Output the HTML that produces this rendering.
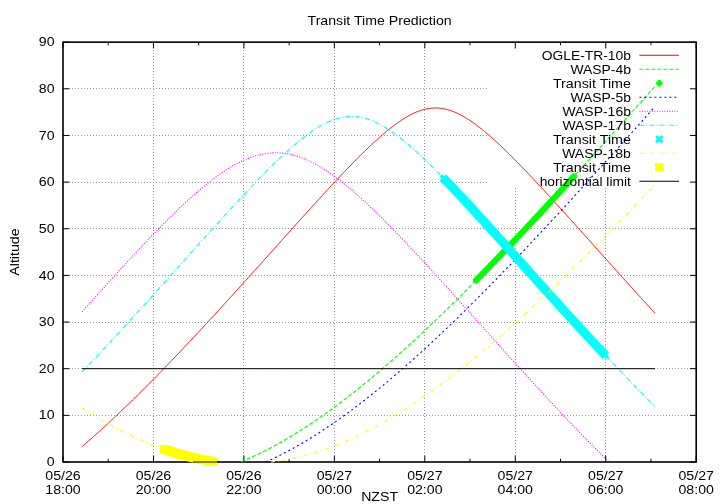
<!DOCTYPE html>
<html><head><meta charset="utf-8"><title>Transit Time Prediction</title>
<style>html,body{margin:0;padding:0;background:#fff}svg{display:block;will-change:transform}text{font-family:'Liberation Sans',sans-serif;font-size:14.15px;fill:#000}</style></head><body>
<svg width="720" height="504" viewBox="0 0 720 504">
<rect width="720" height="504" fill="#fff"/>
<path d="M63.00,415.50H696.20M63.00,368.50H696.20M63.00,322.50H696.20M63.00,275.50H696.20M63.00,228.50H696.20M63.00,182.50H487.00M63.00,135.50H487.00M63.00,88.50H487.00M153.50,462.00V42.15M243.50,462.00V42.15M334.50,462.00V42.15M424.50,462.00V42.15M515.50,462.00V188.00M605.50,462.00V188.00" fill="none" stroke="#999" stroke-width="1" stroke-dasharray="1,2"/>
<path d="M63.00,462.00h6.3M696.20,462.00h-6.3M63.00,415.35h6.3M696.20,415.35h-6.3M63.00,368.70h6.3M696.20,368.70h-6.3M63.00,322.05h6.3M696.20,322.05h-6.3M63.00,275.40h6.3M696.20,275.40h-6.3M63.00,228.75h6.3M696.20,228.75h-6.3M63.00,182.10h6.3M696.20,182.10h-6.3M63.00,135.45h6.3M696.20,135.45h-6.3M63.00,88.80h6.3M696.20,88.80h-6.3M63.00,42.15h6.3M696.20,42.15h-6.3M63.00,462.00v-6.30M63.00,42.15v6.30M108.23,462.00v-3.15M108.23,42.15v3.15M153.46,462.00v-6.30M153.46,42.15v6.30M198.69,462.00v-3.15M198.69,42.15v3.15M243.91,462.00v-6.30M243.91,42.15v6.30M289.14,462.00v-3.15M289.14,42.15v3.15M334.37,462.00v-6.30M334.37,42.15v6.30M379.60,462.00v-3.15M379.60,42.15v3.15M424.83,462.00v-6.30M424.83,42.15v6.30M470.06,462.00v-3.15M470.06,42.15v3.15M515.29,462.00v-6.30M515.29,42.15v6.30M560.51,462.00v-3.15M560.51,42.15v3.15M605.74,462.00v-6.30M605.74,42.15v6.30M650.97,462.00v-3.15M650.97,42.15v3.15M696.20,462.00v-6.30M696.20,42.15v6.30" fill="none" stroke="#000" stroke-width="1"/>
<text transform="translate(54.60,466.10) scale(1.000,0.950)" text-anchor="end">0</text>
<text transform="translate(54.60,419.45) scale(1.000,0.950)" text-anchor="end">10</text>
<text transform="translate(54.60,372.80) scale(1.000,0.950)" text-anchor="end">20</text>
<text transform="translate(54.60,326.15) scale(1.000,0.950)" text-anchor="end">30</text>
<text transform="translate(54.60,279.50) scale(1.000,0.950)" text-anchor="end">40</text>
<text transform="translate(54.60,232.85) scale(1.000,0.950)" text-anchor="end">50</text>
<text transform="translate(54.60,186.20) scale(1.000,0.950)" text-anchor="end">60</text>
<text transform="translate(54.60,139.55) scale(1.000,0.950)" text-anchor="end">70</text>
<text transform="translate(54.60,92.90) scale(1.000,0.950)" text-anchor="end">80</text>
<text transform="translate(54.60,46.25) scale(1.000,0.950)" text-anchor="end">90</text>
<text transform="translate(63.00,480.00) scale(1.000,0.950)" text-anchor="middle">05/26</text>
<text transform="translate(63.00,494.00) scale(1.000,0.950)" text-anchor="middle">18:00</text>
<text transform="translate(153.46,480.00) scale(1.000,0.950)" text-anchor="middle">05/26</text>
<text transform="translate(153.46,494.00) scale(1.000,0.950)" text-anchor="middle">20:00</text>
<text transform="translate(243.91,480.00) scale(1.000,0.950)" text-anchor="middle">05/26</text>
<text transform="translate(243.91,494.00) scale(1.000,0.950)" text-anchor="middle">22:00</text>
<text transform="translate(334.37,480.00) scale(1.000,0.950)" text-anchor="middle">05/27</text>
<text transform="translate(334.37,494.00) scale(1.000,0.950)" text-anchor="middle">00:00</text>
<text transform="translate(424.83,480.00) scale(1.000,0.950)" text-anchor="middle">05/27</text>
<text transform="translate(424.83,494.00) scale(1.000,0.950)" text-anchor="middle">02:00</text>
<text transform="translate(515.29,480.00) scale(1.000,0.950)" text-anchor="middle">05/27</text>
<text transform="translate(515.29,494.00) scale(1.000,0.950)" text-anchor="middle">04:00</text>
<text transform="translate(605.74,480.00) scale(1.000,0.950)" text-anchor="middle">05/27</text>
<text transform="translate(605.74,494.00) scale(1.000,0.950)" text-anchor="middle">06:00</text>
<text transform="translate(696.20,480.00) scale(1.000,0.950)" text-anchor="middle">05/27</text>
<text transform="translate(696.20,494.00) scale(1.000,0.950)" text-anchor="middle">08:00</text>
<text transform="translate(379.60,24.80) scale(1.000,0.950)" text-anchor="middle">Transit Time Prediction</text>
<text transform="translate(379.60,500.60) scale(1.000,0.950)" text-anchor="middle">NZST</text>
<text transform="translate(19.30,252.07) rotate(-90) scale(1.000,0.950)" text-anchor="middle">Altitude</text>
<rect x="63.00" y="42.15" width="633.20" height="419.85" fill="none" stroke="#000" stroke-width="1.6"/>
<text transform="translate(630.90,59.85) scale(0.978,0.950)" text-anchor="end">OGLE-TR-10b</text>
<path d="M639.40,55.25H679.00" fill="none" stroke="#ff0000" stroke-width="1.00"/>
<polyline points="82.00,446.65 82.75,446.00 83.51,445.35 84.26,444.70 85.02,444.04 85.77,443.39 86.52,442.73 87.28,442.08 88.03,441.42 88.78,440.76 89.54,440.09 90.29,439.43 91.05,438.76 91.80,438.10 92.55,437.43 93.31,436.76 94.06,436.09 94.81,435.41 95.57,434.74 96.32,434.06 97.08,433.39 97.83,432.71 98.58,432.03 99.34,431.35 100.09,430.66 100.85,429.98 101.60,429.30 102.35,428.61 103.11,427.92 103.86,427.23 104.61,426.54 105.37,425.85 106.12,425.15 106.88,424.46 107.63,423.76 108.38,423.07 109.14,422.37 109.89,421.67 110.64,420.96 111.40,420.26 112.15,419.56 112.91,418.85 113.66,418.15 114.41,417.44 115.17,416.73 115.92,416.02 116.68,415.31 117.43,414.60 118.18,413.88 118.94,413.17 119.69,412.45 120.44,411.73 121.20,411.01 121.95,410.29 122.71,409.57 123.46,408.85 124.21,408.13 124.97,407.40 125.72,406.68 126.47,405.95 127.23,405.22 127.98,404.49 128.74,403.76 129.49,403.03 130.24,402.30 131.00,401.56 131.75,400.83 132.51,400.09 133.26,399.36 134.01,398.62 134.77,397.88 135.52,397.14 136.27,396.40 137.03,395.66 137.78,394.91 138.54,394.17 139.29,393.42 140.04,392.68 140.80,391.93 141.55,391.18 142.30,390.43 143.06,389.68 143.81,388.93 144.57,388.17 145.32,387.42 146.07,386.67 146.83,385.91 147.58,385.15 148.34,384.40 149.09,383.64 149.84,382.88 150.60,382.12 151.35,381.36 152.10,380.60 152.86,379.83 153.61,379.07 154.37,378.30 155.12,377.54 155.87,376.77 156.63,376.00 157.38,375.23 158.13,374.46 158.89,373.69 159.64,372.92 160.40,372.15 161.15,371.38 161.90,370.60 162.66,369.83 163.41,369.05 164.17,368.28 164.92,367.50 165.67,366.72 166.43,365.94 167.18,365.16 167.93,364.38 168.69,363.60 169.44,362.82 170.20,362.04 170.95,361.25 171.70,360.47 172.46,359.68 173.21,358.90 173.96,358.11 174.72,357.32 175.47,356.53 176.23,355.74 176.98,354.95 177.73,354.16 178.49,353.37 179.24,352.58 180.00,351.79 180.75,350.99 181.50,350.20 182.26,349.40 183.01,348.61 183.76,347.81 184.52,347.01 185.27,346.22 186.03,345.42 186.78,344.62 187.53,343.82 188.29,343.02 189.04,342.22 189.79,341.41 190.55,340.61 191.30,339.81 192.06,339.01 192.81,338.20 193.56,337.40 194.32,336.59 195.07,335.78 195.83,334.98 196.58,334.17 197.33,333.36 198.09,332.55 198.84,331.74 199.59,330.93 200.35,330.12 201.10,329.31 201.86,328.50 202.61,327.69 203.36,326.87 204.12,326.06 204.87,325.25 205.62,324.43 206.38,323.62 207.13,322.80 207.89,321.99 208.64,321.17 209.39,320.35 210.15,319.53 210.90,318.72 211.66,317.90 212.41,317.08 213.16,316.26 213.92,315.44 214.67,314.62 215.42,313.80 216.18,312.97 216.93,312.15 217.69,311.33 218.44,310.51 219.19,309.68 219.95,308.86 220.70,308.03 221.45,307.21 222.21,306.38 222.96,305.56 223.72,304.73 224.47,303.91 225.22,303.08 225.98,302.25 226.73,301.42 227.49,300.59 228.24,299.77 228.99,298.94 229.75,298.11 230.50,297.28 231.25,296.45 232.01,295.62 232.76,294.79 233.52,293.96 234.27,293.12 235.02,292.29 235.78,291.46 236.53,290.63 237.28,289.79 238.04,288.96 238.79,288.13 239.55,287.29 240.30,286.46 241.05,285.63 241.81,284.79 242.56,283.96 243.32,283.12 244.07,282.28 244.82,281.45 245.58,280.61 246.33,279.78 247.08,278.94 247.84,278.10 248.59,277.27 249.35,276.43 250.10,275.59 250.85,274.75 251.61,273.92 252.36,273.08 253.11,272.24 253.87,271.40 254.62,270.56 255.38,269.72 256.13,268.88 256.88,268.04 257.64,267.20 258.39,266.37 259.15,265.53 259.90,264.69 260.65,263.85 261.41,263.00 262.16,262.16 262.91,261.32 263.67,260.48 264.42,259.64 265.18,258.80 265.93,257.96 266.68,257.12 267.44,256.28 268.19,255.44 268.94,254.60 269.70,253.76 270.45,252.91 271.21,252.07 271.96,251.23 272.71,250.39 273.47,249.55 274.22,248.71 274.98,247.87 275.73,247.02 276.48,246.18 277.24,245.34 277.99,244.50 278.74,243.66 279.50,242.82 280.25,241.98 281.01,241.14 281.76,240.29 282.51,239.45 283.27,238.61 284.02,237.77 284.77,236.93 285.53,236.09 286.28,235.25 287.04,234.41 287.79,233.57 288.54,232.73 289.30,231.89 290.05,231.05 290.81,230.21 291.56,229.37 292.31,228.53 293.07,227.69 293.82,226.85 294.57,226.02 295.33,225.18 296.08,224.34 296.84,223.50 297.59,222.66 298.34,221.83 299.10,220.99 299.85,220.15 300.60,219.32 301.36,218.48 302.11,217.64 302.87,216.81 303.62,215.97 304.37,215.14 305.13,214.31 305.88,213.47 306.64,212.64 307.39,211.81 308.14,210.97 308.90,210.14 309.65,209.31 310.40,208.48 311.16,207.65 311.91,206.82 312.67,205.99 313.42,205.16 314.17,204.33 314.93,203.50 315.68,202.67 316.43,201.85 317.19,201.02 317.94,200.20 318.70,199.37 319.45,198.55 320.20,197.72 320.96,196.90 321.71,196.08 322.47,195.26 323.22,194.44 323.97,193.62 324.73,192.80 325.48,191.98 326.23,191.16 326.99,190.35 327.74,189.53 328.50,188.72 329.25,187.90 330.00,187.09 330.76,186.28 331.51,185.47 332.26,184.66 333.02,183.85 333.77,183.04 334.53,182.23 335.28,181.43 336.03,180.62 336.79,179.82 337.54,179.02 338.30,178.22 339.05,177.42 339.80,176.62 340.56,175.82 341.31,175.03 342.06,174.23 342.82,173.44 343.57,172.65 344.33,171.86 345.08,171.07 345.83,170.28 346.59,169.50 347.34,168.71 348.09,167.93 348.85,167.15 349.60,166.37 350.36,165.59 351.11,164.82 351.86,164.04 352.62,163.27 353.37,162.50 354.13,161.73 354.88,160.97 355.63,160.20 356.39,159.44 357.14,158.68 357.89,157.92 358.65,157.17 359.40,156.42 360.16,155.67 360.91,154.92 361.66,154.17 362.42,153.43 363.17,152.69 363.92,151.95 364.68,151.21 365.43,150.48 366.19,149.75 366.94,149.02 367.69,148.30 368.45,147.58 369.20,146.86 369.96,146.14 370.71,145.43 371.46,144.72 372.22,144.01 372.97,143.31 373.72,142.61 374.48,141.92 375.23,141.23 375.99,140.54 376.74,139.85 377.49,139.17 378.25,138.50 379.00,137.82 379.75,137.16 380.51,136.49 381.26,135.83 382.02,135.18 382.77,134.53 383.52,133.88 384.28,133.24 385.03,132.60 385.79,131.97 386.54,131.34 387.29,130.72 388.05,130.11 388.80,129.49 389.55,128.89 390.31,128.29 391.06,127.70 391.82,127.11 392.57,126.52 393.32,125.95 394.08,125.38 394.83,124.82 395.58,124.26 396.34,123.71 397.09,123.17 397.85,122.63 398.60,122.10 399.35,121.58 400.11,121.06 400.86,120.56 401.62,120.06 402.37,119.56 403.12,119.08 403.88,118.60 404.63,118.14 405.38,117.68 406.14,117.23 406.89,116.79 407.65,116.35 408.40,115.93 409.15,115.52 409.91,115.11 410.66,114.72 411.41,114.33 412.17,113.95 412.92,113.59 413.68,113.23 414.43,112.89 415.18,112.55 415.94,112.23 416.69,111.92 417.45,111.62 418.20,111.32 418.95,111.05 419.71,110.78 420.46,110.52 421.21,110.28 421.97,110.04 422.72,109.82 423.48,109.61 424.23,109.41 424.98,109.23 425.74,109.06 426.49,108.90 427.24,108.75 428.00,108.61 428.75,108.49 429.51,108.38 430.26,108.29 431.01,108.20 431.77,108.13 432.52,108.07 433.28,108.03 434.03,108.00 434.78,107.98 435.54,107.97 436.29,107.98 437.04,108.00 437.80,108.04 438.55,108.08 439.31,108.14 440.06,108.22 440.81,108.30 441.57,108.40 442.32,108.51 443.07,108.64 443.83,108.77 444.58,108.92 445.34,109.09 446.09,109.26 446.84,109.45 447.60,109.65 448.35,109.86 449.11,110.08 449.86,110.32 450.61,110.57 451.37,110.82 452.12,111.09 452.87,111.38 453.63,111.67 454.38,111.97 455.14,112.29 455.89,112.61 456.64,112.95 457.40,113.30 458.15,113.65 458.90,114.02 459.66,114.40 460.41,114.79 461.17,115.18 461.92,115.59 462.67,116.01 463.43,116.43 464.18,116.86 464.94,117.31 465.69,117.76 466.44,118.22 467.20,118.69 467.95,119.17 468.70,119.65 469.46,120.14 470.21,120.65 470.97,121.15 471.72,121.67 472.47,122.19 473.23,122.72 473.98,123.26 474.73,123.81 475.49,124.36 476.24,124.92 477.00,125.48 477.75,126.05 478.50,126.63 479.26,127.21 480.01,127.80 480.77,128.40 481.52,129.00 482.27,129.60 483.03,130.22 483.78,130.83 484.53,131.45 485.29,132.08 486.04,132.72 486.80,133.35 487.55,133.99 488.30,134.64 489.06,135.29 489.81,135.95 490.56,136.61 491.32,137.28 492.07,137.94 492.83,138.62 493.58,139.29 494.33,139.98 495.09,140.66 495.84,141.35 496.60,142.04 497.35,142.74 498.10,143.44 498.86,144.14 499.61,144.85 500.36,145.56 501.12,146.27 501.87,146.99 502.63,147.70 503.38,148.43 504.13,149.15 504.89,149.88 505.64,150.61 506.39,151.34 507.15,152.08 507.90,152.82 508.66,153.56 509.41,154.30 510.16,155.05 510.92,155.80 511.67,156.55 512.43,157.30 513.18,158.06 513.93,158.82 514.69,159.58 515.44,160.34 516.19,161.10 516.95,161.87 517.70,162.64 518.46,163.41 519.21,164.18 519.96,164.96 520.72,165.73 521.47,166.51 522.22,167.29 522.98,168.07 523.73,168.85 524.49,169.64 525.24,170.42 525.99,171.21 526.75,172.00 527.50,172.79 528.26,173.58 529.01,174.37 529.76,175.17 530.52,175.96 531.27,176.76 532.02,177.56 532.78,178.36 533.53,179.16 534.29,179.96 535.04,180.77 535.79,181.57 536.55,182.38 537.30,183.18 538.05,183.99 538.81,184.80 539.56,185.61 540.32,186.42 541.07,187.23 541.82,188.05 542.58,188.86 543.33,189.68 544.09,190.49 544.84,191.31 545.59,192.13 546.35,192.94 547.10,193.76 547.85,194.58 548.61,195.40 549.36,196.23 550.12,197.05 550.87,197.87 551.62,198.69 552.38,199.52 553.13,200.34 553.88,201.17 554.64,202.00 555.39,202.82 556.15,203.65 556.90,204.48 557.65,205.31 558.41,206.14 559.16,206.97 559.92,207.80 560.67,208.63 561.42,209.46 562.18,210.29 562.93,211.12 563.68,211.95 564.44,212.79 565.19,213.62 565.95,214.45 566.70,215.29 567.45,216.12 568.21,216.96 568.96,217.79 569.71,218.63 570.47,219.47 571.22,220.30 571.98,221.14 572.73,221.98 573.48,222.81 574.24,223.65 574.99,224.49 575.75,225.33 576.50,226.16 577.25,227.00 578.01,227.84 578.76,228.68 579.51,229.52 580.27,230.36 581.02,231.20 581.78,232.04 582.53,232.88 583.28,233.72 584.04,234.56 584.79,235.40 585.54,236.24 586.30,237.08 587.05,237.92 587.81,238.76 588.56,239.60 589.31,240.44 590.07,241.29 590.82,242.13 591.58,242.97 592.33,243.81 593.08,244.65 593.84,245.49 594.59,246.33 595.34,247.18 596.10,248.02 596.85,248.86 597.61,249.70 598.36,250.54 599.11,251.38 599.87,252.22 600.62,253.06 601.37,253.91 602.13,254.75 602.88,255.59 603.64,256.43 604.39,257.27 605.14,258.11 605.90,258.95 606.65,259.79 607.41,260.63 608.16,261.47 608.91,262.31 609.67,263.16 610.42,264.00 611.17,264.84 611.93,265.68 612.68,266.52 613.44,267.35 614.19,268.19 614.94,269.03 615.70,269.87 616.45,270.71 617.20,271.55 617.96,272.39 618.71,273.23 619.47,274.07 620.22,274.90 620.97,275.74 621.73,276.58 622.48,277.42 623.24,278.25 623.99,279.09 624.74,279.93 625.50,280.76 626.25,281.60 627.00,282.43 627.76,283.27 628.51,284.10 629.27,284.94 630.02,285.77 630.77,286.61 631.53,287.44 632.28,288.28 633.03,289.11 633.79,289.94 634.54,290.78 635.30,291.61 636.05,292.44 636.80,293.27 637.56,294.10 638.31,294.94 639.07,295.77 639.82,296.60 640.57,297.43 641.33,298.26 642.08,299.09 642.83,299.91 643.59,300.74 644.34,301.57 645.10,302.40 645.85,303.23 646.60,304.05 647.36,304.88 648.11,305.71 648.86,306.53 649.62,307.36 650.37,308.18 651.13,309.01 651.88,309.83 652.63,310.65 653.39,311.48 654.14,312.30 654.90,313.12" fill="none" stroke="#ff0000" stroke-width="1.00" stroke-linejoin="round"/>
<text transform="translate(630.90,73.85) scale(0.982,0.950)" text-anchor="end">WASP-4b</text>
<path d="M639.40,69.25H679.00" fill="none" stroke="#00ff00" stroke-width="1.10" stroke-dasharray="4,2"/>
<polyline points="241.05,461.73 241.81,461.41 242.56,461.10 243.32,460.79 244.07,460.47 244.82,460.15 245.58,459.83 246.33,459.50 247.08,459.18 247.84,458.85 248.59,458.52 249.35,458.18 250.10,457.85 250.85,457.51 251.61,457.17 252.36,456.83 253.11,456.48 253.87,456.13 254.62,455.78 255.38,455.43 256.13,455.08 256.88,454.72 257.64,454.36 258.39,454.00 259.15,453.64 259.90,453.27 260.65,452.90 261.41,452.53 262.16,452.16 262.91,451.79 263.67,451.41 264.42,451.03 265.18,450.65 265.93,450.27 266.68,449.88 267.44,449.49 268.19,449.10 268.94,448.71 269.70,448.32 270.45,447.92 271.21,447.52 271.96,447.12 272.71,446.72 273.47,446.32 274.22,445.91 274.98,445.50 275.73,445.09 276.48,444.68 277.24,444.26 277.99,443.84 278.74,443.42 279.50,443.00 280.25,442.58 281.01,442.15 281.76,441.73 282.51,441.30 283.27,440.86 284.02,440.43 284.77,439.99 285.53,439.56 286.28,439.12 287.04,438.67 287.79,438.23 288.54,437.78 289.30,437.34 290.05,436.89 290.81,436.43 291.56,435.98 292.31,435.52 293.07,435.07 293.82,434.61 294.57,434.15 295.33,433.68 296.08,433.22 296.84,432.75 297.59,432.28 298.34,431.81 299.10,431.33 299.85,430.86 300.60,430.38 301.36,429.90 302.11,429.42 302.87,428.94 303.62,428.45 304.37,427.97 305.13,427.48 305.88,426.99 306.64,426.50 307.39,426.00 308.14,425.51 308.90,425.01 309.65,424.51 310.40,424.01 311.16,423.51 311.91,423.00 312.67,422.50 313.42,421.99 314.17,421.48 314.93,420.97 315.68,420.45 316.43,419.94 317.19,419.42 317.94,418.90 318.70,418.38 319.45,417.86 320.20,417.33 320.96,416.81 321.71,416.28 322.47,415.75 323.22,415.22 323.97,414.69 324.73,414.15 325.48,413.62 326.23,413.08 326.99,412.54 327.74,412.00 328.50,411.45 329.25,410.91 330.00,410.36 330.76,409.82 331.51,409.27 332.26,408.72 333.02,408.16 333.77,407.61 334.53,407.05 335.28,406.50 336.03,405.94 336.79,405.38 337.54,404.81 338.30,404.25 339.05,403.68 339.80,403.12 340.56,402.55 341.31,401.98 342.06,401.41 342.82,400.83 343.57,400.26 344.33,399.68 345.08,399.10 345.83,398.53 346.59,397.94 347.34,397.36 348.09,396.78 348.85,396.19 349.60,395.61 350.36,395.02 351.11,394.43 351.86,393.84 352.62,393.24 353.37,392.65 354.13,392.05 354.88,391.46 355.63,390.86 356.39,390.26 357.14,389.66 357.89,389.05 358.65,388.45 359.40,387.84 360.16,387.24 360.91,386.63 361.66,386.02 362.42,385.41 363.17,384.79 363.92,384.18 364.68,383.56 365.43,382.95 366.19,382.33 366.94,381.71 367.69,381.09 368.45,380.47 369.20,379.84 369.96,379.22 370.71,378.59 371.46,377.96 372.22,377.34 372.97,376.71 373.72,376.07 374.48,375.44 375.23,374.81 375.99,374.17 376.74,373.53 377.49,372.90 378.25,372.26 379.00,371.62 379.75,370.97 380.51,370.33 381.26,369.69 382.02,369.04 382.77,368.40 383.52,367.75 384.28,367.10 385.03,366.45 385.79,365.80 386.54,365.14 387.29,364.49 388.05,363.83 388.80,363.18 389.55,362.52 390.31,361.86 391.06,361.20 391.82,360.54 392.57,359.88 393.32,359.21 394.08,358.55 394.83,357.88 395.58,357.21 396.34,356.55 397.09,355.88 397.85,355.21 398.60,354.53 399.35,353.86 400.11,353.19 400.86,352.51 401.62,351.84 402.37,351.16 403.12,350.48 403.88,349.80 404.63,349.12 405.38,348.44 406.14,347.76 406.89,347.07 407.65,346.39 408.40,345.70 409.15,345.01 409.91,344.33 410.66,343.64 411.41,342.95 412.17,342.25 412.92,341.56 413.68,340.87 414.43,340.17 415.18,339.48 415.94,338.78 416.69,338.08 417.45,337.39 418.20,336.69 418.95,335.99 419.71,335.28 420.46,334.58 421.21,333.88 421.97,333.17 422.72,332.47 423.48,331.76 424.23,331.05 424.98,330.35 425.74,329.64 426.49,328.93 427.24,328.22 428.00,327.50 428.75,326.79 429.51,326.08 430.26,325.36 431.01,324.64 431.77,323.93 432.52,323.21 433.28,322.49 434.03,321.77 434.78,321.05 435.54,320.33 436.29,319.61 437.04,318.88 437.80,318.16 438.55,317.43 439.31,316.71 440.06,315.98 440.81,315.25 441.57,314.53 442.32,313.80 443.07,313.07 443.83,312.33 444.58,311.60 445.34,310.87 446.09,310.14 446.84,309.40 447.60,308.67 448.35,307.93 449.11,307.19 449.86,306.45 450.61,305.71 451.37,304.98 452.12,304.23 452.87,303.49 453.63,302.75 454.38,302.01 455.14,301.26 455.89,300.52 456.64,299.78 457.40,299.03 458.15,298.28 458.90,297.53 459.66,296.79 460.41,296.04 461.17,295.29 461.92,294.54 462.67,293.78 463.43,293.03 464.18,292.28 464.94,291.53 465.69,290.77 466.44,290.02 467.20,289.26 467.95,288.50 468.70,287.75 469.46,286.99 470.21,286.23 470.97,285.47 471.72,284.71 472.47,283.95 473.23,283.19 473.98,282.42 474.73,281.66 475.49,280.90 476.24,280.13 477.00,279.37 477.75,278.60 478.50,277.83 479.26,277.07 480.01,276.30 480.77,275.53 481.52,274.76 482.27,273.99 483.03,273.22 483.78,272.45 484.53,271.68 485.29,270.90 486.04,270.13 486.80,269.36 487.55,268.58 488.30,267.81 489.06,267.03 489.81,266.26 490.56,265.48 491.32,264.70 492.07,263.92 492.83,263.14 493.58,262.36 494.33,261.58 495.09,260.80 495.84,260.02 496.60,259.24 497.35,258.46 498.10,257.67 498.86,256.89 499.61,256.10 500.36,255.32 501.12,254.53 501.87,253.75 502.63,252.96 503.38,252.17 504.13,251.39 504.89,250.60 505.64,249.81 506.39,249.02 507.15,248.23 507.90,247.44 508.66,246.65 509.41,245.85 510.16,245.06 510.92,244.27 511.67,243.48 512.43,242.68 513.18,241.89 513.93,241.09 514.69,240.30 515.44,239.50 516.19,238.70 516.95,237.91 517.70,237.11 518.46,236.31 519.21,235.51 519.96,234.71 520.72,233.91 521.47,233.11 522.22,232.31 522.98,231.51 523.73,230.71 524.49,229.91 525.24,229.10 525.99,228.30 526.75,227.50 527.50,226.69 528.26,225.89 529.01,225.08 529.76,224.28 530.52,223.47 531.27,222.67 532.02,221.86 532.78,221.05 533.53,220.24 534.29,219.43 535.04,218.63 535.79,217.82 536.55,217.01 537.30,216.20 538.05,215.39 538.81,214.58 539.56,213.76 540.32,212.95 541.07,212.14 541.82,211.33 542.58,210.51 543.33,209.70 544.09,208.89 544.84,208.07 545.59,207.26 546.35,206.44 547.10,205.63 547.85,204.81 548.61,204.00 549.36,203.18 550.12,202.36 550.87,201.54 551.62,200.73 552.38,199.91 553.13,199.09 553.88,198.27 554.64,197.45 555.39,196.63 556.15,195.81 556.90,194.99 557.65,194.17 558.41,193.35 559.16,192.53 559.92,191.71 560.67,190.88 561.42,190.06 562.18,189.24 562.93,188.41 563.68,187.59 564.44,186.77 565.19,185.94 565.95,185.12 566.70,184.29 567.45,183.47 568.21,182.64 568.96,181.82 569.71,180.99 570.47,180.16 571.22,179.34 571.98,178.51 572.73,177.68 573.48,176.85 574.24,176.02 574.99,175.20 575.75,174.37 576.50,173.54 577.25,172.71 578.01,171.88 578.76,171.05 579.51,170.22 580.27,169.39 581.02,168.56 581.78,167.73 582.53,166.90 583.28,166.06 584.04,165.23 584.79,164.40 585.54,163.57 586.30,162.74 587.05,161.90 587.81,161.07 588.56,160.24 589.31,159.40 590.07,158.57 590.82,157.73 591.58,156.90 592.33,156.07 593.08,155.23 593.84,154.40 594.59,153.56 595.34,152.72 596.10,151.89 596.85,151.05 597.61,150.22 598.36,149.38 599.11,148.54 599.87,147.71 600.62,146.87 601.37,146.03 602.13,145.20 602.88,144.36 603.64,143.52 604.39,142.68 605.14,141.85 605.90,141.01 606.65,140.17 607.41,139.33 608.16,138.49 608.91,137.65 609.67,136.81 610.42,135.97 611.17,135.14 611.93,134.30 612.68,133.46 613.44,132.62 614.19,131.78 614.94,130.94 615.70,130.10 616.45,129.26 617.20,128.42 617.96,127.58 618.71,126.73 619.47,125.89 620.22,125.05 620.97,124.21 621.73,123.37 622.48,122.53 623.24,121.69 623.99,120.85 624.74,120.01 625.50,119.17 626.25,118.33 627.00,117.48 627.76,116.64 628.51,115.80 629.27,114.96 630.02,114.12 630.77,113.28 631.53,112.44 632.28,111.59 633.03,110.75 633.79,109.91 634.54,109.07 635.30,108.23 636.05,107.39 636.80,106.55 637.56,105.71 638.31,104.86 639.07,104.02 639.82,103.18 640.57,102.34 641.33,101.50 642.08,100.66 642.83,99.82 643.59,98.98 644.34,98.14 645.10,97.30 645.85,96.46 646.60,95.62 647.36,94.78 648.11,93.94 648.86,93.11 649.62,92.27 650.37,91.43 651.13,90.59 651.88,89.76 652.63,88.92 653.39,88.08 654.14,87.25 654.90,86.41" fill="none" stroke="#00ff00" stroke-width="1.10" stroke-linejoin="round" stroke-dasharray="4,2"/>
<text transform="translate(630.90,87.85) scale(1.009,0.950)" text-anchor="end">Transit Time</text>
<path d="M656.15,83.25h6.30M659.30,80.10v6.30" fill="none" stroke="#00ff00" stroke-width="3.00"/>
<path d="M472.85,280.38h6.30M476.00,277.23v6.30M473.60,279.61h6.30M476.75,276.46v6.30M474.36,278.85h6.30M477.51,275.70v6.30M475.11,278.08h6.30M478.26,274.93v6.30M475.87,277.31h6.30M479.02,274.16v6.30M476.62,276.55h6.30M479.77,273.40v6.30M477.37,275.78h6.30M480.52,272.63v6.30M478.13,275.01h6.30M481.28,271.86v6.30M478.88,274.24h6.30M482.03,271.09v6.30M479.63,273.47h6.30M482.78,270.32v6.30M480.39,272.70h6.30M483.54,269.55v6.30M481.14,271.93h6.30M484.29,268.78v6.30M481.90,271.15h6.30M485.05,268.00v6.30M482.65,270.38h6.30M485.80,267.23v6.30M483.40,269.61h6.30M486.55,266.46v6.30M484.16,268.83h6.30M487.31,265.68v6.30M484.91,268.06h6.30M488.06,264.91v6.30M485.66,267.28h6.30M488.81,264.13v6.30M486.42,266.50h6.30M489.57,263.35v6.30M487.17,265.73h6.30M490.32,262.58v6.30M487.93,264.95h6.30M491.08,261.80v6.30M488.68,264.17h6.30M491.83,261.02v6.30M489.43,263.39h6.30M492.58,260.24v6.30M490.19,262.61h6.30M493.34,259.46v6.30M490.94,261.83h6.30M494.09,258.68v6.30M491.70,261.05h6.30M494.85,257.90v6.30M492.45,260.27h6.30M495.60,257.12v6.30M493.20,259.49h6.30M496.35,256.34v6.30M493.96,258.71h6.30M497.11,255.56v6.30M494.71,257.92h6.30M497.86,254.77v6.30M495.46,257.14h6.30M498.61,253.99v6.30M496.22,256.36h6.30M499.37,253.21v6.30M496.97,255.57h6.30M500.12,252.42v6.30M497.73,254.79h6.30M500.88,251.64v6.30M498.48,254.00h6.30M501.63,250.85v6.30M499.23,253.21h6.30M502.38,250.06v6.30M499.99,252.43h6.30M503.14,249.28v6.30M500.74,251.64h6.30M503.89,248.49v6.30M501.49,250.85h6.30M504.64,247.70v6.30M502.25,250.06h6.30M505.40,246.91v6.30M503.00,249.27h6.30M506.15,246.12v6.30M503.76,248.48h6.30M506.91,245.33v6.30M504.51,247.69h6.30M507.66,244.54v6.30M505.26,246.90h6.30M508.41,243.75v6.30M506.02,246.11h6.30M509.17,242.96v6.30M506.77,245.32h6.30M509.92,242.17v6.30M507.53,244.52h6.30M510.68,241.37v6.30M508.28,243.73h6.30M511.43,240.58v6.30M509.03,242.94h6.30M512.18,239.79v6.30M509.79,242.14h6.30M512.94,238.99v6.30M510.54,241.35h6.30M513.69,238.20v6.30M511.29,240.55h6.30M514.44,237.40v6.30M512.05,239.76h6.30M515.20,236.61v6.30M512.80,238.96h6.30M515.95,235.81v6.30M513.56,238.16h6.30M516.71,235.01v6.30M514.31,237.36h6.30M517.46,234.21v6.30M515.06,236.57h6.30M518.21,233.42v6.30M515.82,235.77h6.30M518.97,232.62v6.30M516.57,234.97h6.30M519.72,231.82v6.30M517.32,234.17h6.30M520.47,231.02v6.30M518.08,233.37h6.30M521.23,230.22v6.30M518.83,232.57h6.30M521.98,229.42v6.30M519.59,231.77h6.30M522.74,228.62v6.30M520.34,230.97h6.30M523.49,227.82v6.30M521.09,230.16h6.30M524.24,227.01v6.30M521.85,229.36h6.30M525.00,226.21v6.30M522.60,228.56h6.30M525.75,225.41v6.30M523.36,227.76h6.30M526.51,224.61v6.30M524.11,226.95h6.30M527.26,223.80v6.30M524.86,226.15h6.30M528.01,223.00v6.30M525.62,225.34h6.30M528.77,222.19v6.30M526.37,224.54h6.30M529.52,221.39v6.30M527.12,223.73h6.30M530.27,220.58v6.30M527.88,222.92h6.30M531.03,219.77v6.30M528.63,222.12h6.30M531.78,218.97v6.30M529.39,221.31h6.30M532.54,218.16v6.30M530.14,220.50h6.30M533.29,217.35v6.30M530.89,219.69h6.30M534.04,216.54v6.30M531.65,218.89h6.30M534.80,215.74v6.30M532.40,218.08h6.30M535.55,214.93v6.30M533.15,217.27h6.30M536.30,214.12v6.30M533.91,216.46h6.30M537.06,213.31v6.30M534.66,215.65h6.30M537.81,212.50v6.30M535.42,214.84h6.30M538.57,211.69v6.30M536.17,214.03h6.30M539.32,210.88v6.30M536.92,213.21h6.30M540.07,210.06v6.30M537.68,212.40h6.30M540.83,209.25v6.30M538.43,211.59h6.30M541.58,208.44v6.30M539.19,210.78h6.30M542.34,207.63v6.30M539.94,209.96h6.30M543.09,206.81v6.30M540.69,209.15h6.30M543.84,206.00v6.30M541.45,208.34h6.30M544.60,205.19v6.30M542.20,207.52h6.30M545.35,204.37v6.30M542.95,206.71h6.30M546.10,203.56v6.30M543.71,205.89h6.30M546.86,202.74v6.30M544.46,205.07h6.30M547.61,201.92v6.30M545.22,204.26h6.30M548.37,201.11v6.30M545.97,203.44h6.30M549.12,200.29v6.30M546.72,202.62h6.30M549.87,199.47v6.30M547.48,201.81h6.30M550.63,198.66v6.30M548.23,200.99h6.30M551.38,197.84v6.30M548.98,200.17h6.30M552.13,197.02v6.30M549.74,199.35h6.30M552.89,196.20v6.30M550.49,198.53h6.30M553.64,195.38v6.30M551.25,197.71h6.30M554.40,194.56v6.30M552.00,196.90h6.30M555.15,193.75v6.30M552.75,196.08h6.30M555.90,192.93v6.30M553.51,195.25h6.30M556.66,192.10v6.30M554.26,194.43h6.30M557.41,191.28v6.30M555.02,193.61h6.30M558.17,190.46v6.30M555.77,192.79h6.30M558.92,189.64v6.30M556.52,191.97h6.30M559.67,188.82v6.30M557.28,191.15h6.30M560.43,188.00v6.30M558.03,190.32h6.30M561.18,187.17v6.30M558.78,189.50h6.30M561.93,186.35v6.30M559.54,188.68h6.30M562.69,185.53v6.30M560.29,187.86h6.30M563.44,184.71v6.30M561.05,187.03h6.30M564.20,183.88v6.30M561.80,186.21h6.30M564.95,183.06v6.30M562.55,185.38h6.30M565.70,182.23v6.30M563.31,184.56h6.30M566.46,181.41v6.30M564.06,183.73h6.30M567.21,180.58v6.30M564.81,182.91h6.30M567.96,179.76v6.30M565.57,182.08h6.30M568.72,178.93v6.30M566.32,181.25h6.30M569.47,178.10v6.30M567.08,180.43h6.30M570.23,177.28v6.30M567.83,179.60h6.30M570.98,176.45v6.30M568.58,178.77h6.30M571.73,175.62v6.30M569.34,177.95h6.30M572.49,174.80v6.30M570.09,177.12h6.30M573.24,173.97v6.30M570.85,176.29h6.30M574.00,173.14v6.30" fill="none" stroke="#00ff00" stroke-width="3.00"/>
<text transform="translate(630.90,101.85) scale(0.982,0.950)" text-anchor="end">WASP-5b</text>
<path d="M639.40,97.25H679.00" fill="none" stroke="#0000ff" stroke-width="1.10" stroke-dasharray="2,3"/>
<polyline points="265.93,461.92 266.68,461.59 267.44,461.25 268.19,460.90 268.94,460.56 269.70,460.21 270.45,459.86 271.21,459.51 271.96,459.16 272.71,458.80 273.47,458.44 274.22,458.08 274.98,457.72 275.73,457.35 276.48,456.99 277.24,456.62 277.99,456.25 278.74,455.87 279.50,455.50 280.25,455.12 281.01,454.74 281.76,454.35 282.51,453.97 283.27,453.58 284.02,453.19 284.77,452.80 285.53,452.40 286.28,452.01 287.04,451.61 287.79,451.21 288.54,450.81 289.30,450.40 290.05,449.99 290.81,449.58 291.56,449.17 292.31,448.76 293.07,448.34 293.82,447.93 294.57,447.51 295.33,447.08 296.08,446.66 296.84,446.23 297.59,445.80 298.34,445.37 299.10,444.94 299.85,444.51 300.60,444.07 301.36,443.63 302.11,443.19 302.87,442.75 303.62,442.30 304.37,441.86 305.13,441.41 305.88,440.96 306.64,440.50 307.39,440.05 308.14,439.59 308.90,439.13 309.65,438.67 310.40,438.21 311.16,437.75 311.91,437.28 312.67,436.81 313.42,436.34 314.17,435.87 314.93,435.39 315.68,434.92 316.43,434.44 317.19,433.96 317.94,433.48 318.70,432.99 319.45,432.51 320.20,432.02 320.96,431.53 321.71,431.04 322.47,430.54 323.22,430.05 323.97,429.55 324.73,429.05 325.48,428.55 326.23,428.05 326.99,427.54 327.74,427.04 328.50,426.53 329.25,426.02 330.00,425.51 330.76,424.99 331.51,424.48 332.26,423.96 333.02,423.44 333.77,422.92 334.53,422.40 335.28,421.87 336.03,421.35 336.79,420.82 337.54,420.29 338.30,419.76 339.05,419.23 339.80,418.69 340.56,418.16 341.31,417.62 342.06,417.08 342.82,416.54 343.57,415.99 344.33,415.45 345.08,414.90 345.83,414.35 346.59,413.80 347.34,413.25 348.09,412.70 348.85,412.14 349.60,411.59 350.36,411.03 351.11,410.47 351.86,409.91 352.62,409.34 353.37,408.78 354.13,408.21 354.88,407.65 355.63,407.08 356.39,406.51 357.14,405.93 357.89,405.36 358.65,404.78 359.40,404.21 360.16,403.63 360.91,403.05 361.66,402.47 362.42,401.88 363.17,401.30 363.92,400.71 364.68,400.12 365.43,399.53 366.19,398.94 366.94,398.35 367.69,397.76 368.45,397.16 369.20,396.56 369.96,395.97 370.71,395.37 371.46,394.76 372.22,394.16 372.97,393.56 373.72,392.95 374.48,392.34 375.23,391.74 375.99,391.13 376.74,390.51 377.49,389.90 378.25,389.29 379.00,388.67 379.75,388.06 380.51,387.44 381.26,386.82 382.02,386.20 382.77,385.57 383.52,384.95 384.28,384.32 385.03,383.70 385.79,383.07 386.54,382.44 387.29,381.81 388.05,381.18 388.80,380.54 389.55,379.91 390.31,379.27 391.06,378.64 391.82,378.00 392.57,377.36 393.32,376.72 394.08,376.08 394.83,375.43 395.58,374.79 396.34,374.14 397.09,373.49 397.85,372.84 398.60,372.19 399.35,371.54 400.11,370.89 400.86,370.24 401.62,369.58 402.37,368.93 403.12,368.27 403.88,367.61 404.63,366.95 405.38,366.29 406.14,365.63 406.89,364.96 407.65,364.30 408.40,363.63 409.15,362.97 409.91,362.30 410.66,361.63 411.41,360.96 412.17,360.29 412.92,359.61 413.68,358.94 414.43,358.26 415.18,357.59 415.94,356.91 416.69,356.23 417.45,355.55 418.20,354.87 418.95,354.19 419.71,353.51 420.46,352.82 421.21,352.14 421.97,351.45 422.72,350.76 423.48,350.08 424.23,349.39 424.98,348.70 425.74,348.00 426.49,347.31 427.24,346.62 428.00,345.92 428.75,345.23 429.51,344.53 430.26,343.83 431.01,343.13 431.77,342.43 432.52,341.73 433.28,341.03 434.03,340.33 434.78,339.62 435.54,338.92 436.29,338.21 437.04,337.50 437.80,336.79 438.55,336.09 439.31,335.38 440.06,334.66 440.81,333.95 441.57,333.24 442.32,332.53 443.07,331.81 443.83,331.09 444.58,330.38 445.34,329.66 446.09,328.94 446.84,328.22 447.60,327.50 448.35,326.78 449.11,326.06 449.86,325.33 450.61,324.61 451.37,323.88 452.12,323.16 452.87,322.43 453.63,321.70 454.38,320.97 455.14,320.24 455.89,319.51 456.64,318.78 457.40,318.05 458.15,317.32 458.90,316.58 459.66,315.85 460.41,315.11 461.17,314.37 461.92,313.64 462.67,312.90 463.43,312.16 464.18,311.42 464.94,310.68 465.69,309.94 466.44,309.19 467.20,308.45 467.95,307.71 468.70,306.96 469.46,306.22 470.21,305.47 470.97,304.72 471.72,303.97 472.47,303.22 473.23,302.47 473.98,301.72 474.73,300.97 475.49,300.22 476.24,299.47 477.00,298.71 477.75,297.96 478.50,297.20 479.26,296.45 480.01,295.69 480.77,294.93 481.52,294.17 482.27,293.41 483.03,292.65 483.78,291.89 484.53,291.13 485.29,290.37 486.04,289.61 486.80,288.84 487.55,288.08 488.30,287.32 489.06,286.55 489.81,285.78 490.56,285.02 491.32,284.25 492.07,283.48 492.83,282.71 493.58,281.94 494.33,281.17 495.09,280.40 495.84,279.63 496.60,278.86 497.35,278.08 498.10,277.31 498.86,276.53 499.61,275.76 500.36,274.98 501.12,274.21 501.87,273.43 502.63,272.65 503.38,271.87 504.13,271.09 504.89,270.31 505.64,269.53 506.39,268.75 507.15,267.97 507.90,267.19 508.66,266.41 509.41,265.62 510.16,264.84 510.92,264.05 511.67,263.27 512.43,262.48 513.18,261.69 513.93,260.91 514.69,260.12 515.44,259.33 516.19,258.54 516.95,257.75 517.70,256.96 518.46,256.17 519.21,255.38 519.96,254.59 520.72,253.80 521.47,253.00 522.22,252.21 522.98,251.42 523.73,250.62 524.49,249.83 525.24,249.03 525.99,248.24 526.75,247.44 527.50,246.64 528.26,245.84 529.01,245.04 529.76,244.25 530.52,243.45 531.27,242.65 532.02,241.85 532.78,241.05 533.53,240.24 534.29,239.44 535.04,238.64 535.79,237.84 536.55,237.03 537.30,236.23 538.05,235.42 538.81,234.62 539.56,233.81 540.32,233.01 541.07,232.20 541.82,231.39 542.58,230.59 543.33,229.78 544.09,228.97 544.84,228.16 545.59,227.35 546.35,226.54 547.10,225.73 547.85,224.92 548.61,224.11 549.36,223.30 550.12,222.49 550.87,221.67 551.62,220.86 552.38,220.05 553.13,219.23 553.88,218.42 554.64,217.61 555.39,216.79 556.15,215.98 556.90,215.16 557.65,214.34 558.41,213.53 559.16,212.71 559.92,211.89 560.67,211.07 561.42,210.26 562.18,209.44 562.93,208.62 563.68,207.80 564.44,206.98 565.19,206.16 565.95,205.34 566.70,204.52 567.45,203.70 568.21,202.87 568.96,202.05 569.71,201.23 570.47,200.41 571.22,199.58 571.98,198.76 572.73,197.94 573.48,197.11 574.24,196.29 574.99,195.46 575.75,194.64 576.50,193.81 577.25,192.98 578.01,192.16 578.76,191.33 579.51,190.50 580.27,189.68 581.02,188.85 581.78,188.02 582.53,187.19 583.28,186.36 584.04,185.54 584.79,184.71 585.54,183.88 586.30,183.05 587.05,182.22 587.81,181.39 588.56,180.56 589.31,179.72 590.07,178.89 590.82,178.06 591.58,177.23 592.33,176.40 593.08,175.57 593.84,174.73 594.59,173.90 595.34,173.07 596.10,172.23 596.85,171.40 597.61,170.57 598.36,169.73 599.11,168.90 599.87,168.06 600.62,167.23 601.37,166.39 602.13,165.56 602.88,164.72 603.64,163.89 604.39,163.05 605.14,162.21 605.90,161.38 606.65,160.54 607.41,159.70 608.16,158.87 608.91,158.03 609.67,157.19 610.42,156.35 611.17,155.52 611.93,154.68 612.68,153.84 613.44,153.00 614.19,152.16 614.94,151.32 615.70,150.48 616.45,149.65 617.20,148.81 617.96,147.97 618.71,147.13 619.47,146.29 620.22,145.45 620.97,144.61 621.73,143.77 622.48,142.93 623.24,142.09 623.99,141.25 624.74,140.41 625.50,139.57 626.25,138.73 627.00,137.88 627.76,137.04 628.51,136.20 629.27,135.36 630.02,134.52 630.77,133.68 631.53,132.84 632.28,132.00 633.03,131.16 633.79,130.31 634.54,129.47 635.30,128.63 636.05,127.79 636.80,126.95 637.56,126.11 638.31,125.27 639.07,124.42 639.82,123.58 640.57,122.74 641.33,121.90 642.08,121.06 642.83,120.22 643.59,119.38 644.34,118.54 645.10,117.69 645.85,116.85 646.60,116.01 647.36,115.17 648.11,114.33 648.86,113.49 649.62,112.65 650.37,111.81 651.13,110.97 651.88,110.13 652.63,109.29 653.39,108.45 654.14,107.62 654.90,106.78" fill="none" stroke="#0000ff" stroke-width="1.10" stroke-linejoin="round" stroke-dasharray="2,3"/>
<text transform="translate(630.90,115.85) scale(0.987,0.950)" text-anchor="end">WASP-16b</text>
<path d="M639.40,111.25H679.00" fill="none" stroke="#ff00ff" stroke-width="1.10" stroke-dasharray="1,1.5"/>
<polyline points="82.00,311.85 82.75,311.01 83.51,310.17 84.26,309.33 85.02,308.49 85.77,307.65 86.52,306.81 87.28,305.97 88.03,305.13 88.78,304.29 89.54,303.45 90.29,302.61 91.05,301.77 91.80,300.93 92.55,300.09 93.31,299.26 94.06,298.42 94.81,297.58 95.57,296.74 96.32,295.90 97.08,295.07 97.83,294.23 98.58,293.39 99.34,292.56 100.09,291.72 100.85,290.89 101.60,290.05 102.35,289.22 103.11,288.38 103.86,287.55 104.61,286.71 105.37,285.88 106.12,285.05 106.88,284.21 107.63,283.38 108.38,282.55 109.14,281.72 109.89,280.89 110.64,280.06 111.40,279.23 112.15,278.40 112.91,277.57 113.66,276.74 114.41,275.91 115.17,275.08 115.92,274.26 116.68,273.43 117.43,272.60 118.18,271.78 118.94,270.95 119.69,270.13 120.44,269.31 121.20,268.48 121.95,267.66 122.71,266.84 123.46,266.02 124.21,265.20 124.97,264.38 125.72,263.56 126.47,262.74 127.23,261.92 127.98,261.11 128.74,260.29 129.49,259.48 130.24,258.66 131.00,257.85 131.75,257.04 132.51,256.23 133.26,255.41 134.01,254.60 134.77,253.80 135.52,252.99 136.27,252.18 137.03,251.37 137.78,250.57 138.54,249.76 139.29,248.96 140.04,248.16 140.80,247.36 141.55,246.56 142.30,245.76 143.06,244.96 143.81,244.16 144.57,243.36 145.32,242.57 146.07,241.78 146.83,240.98 147.58,240.19 148.34,239.40 149.09,238.61 149.84,237.83 150.60,237.04 151.35,236.25 152.10,235.47 152.86,234.69 153.61,233.91 154.37,233.13 155.12,232.35 155.87,231.57 156.63,230.80 157.38,230.02 158.13,229.25 158.89,228.48 159.64,227.71 160.40,226.94 161.15,226.17 161.90,225.41 162.66,224.65 163.41,223.88 164.17,223.13 164.92,222.37 165.67,221.61 166.43,220.86 167.18,220.10 167.93,219.35 168.69,218.60 169.44,217.86 170.20,217.11 170.95,216.37 171.70,215.63 172.46,214.89 173.21,214.15 173.96,213.42 174.72,212.68 175.47,211.95 176.23,211.22 176.98,210.50 177.73,209.77 178.49,209.05 179.24,208.33 180.00,207.61 180.75,206.90 181.50,206.19 182.26,205.48 183.01,204.77 183.76,204.06 184.52,203.36 185.27,202.66 186.03,201.96 186.78,201.27 187.53,200.57 188.29,199.89 189.04,199.20 189.79,198.51 190.55,197.83 191.30,197.16 192.06,196.48 192.81,195.81 193.56,195.14 194.32,194.47 195.07,193.81 195.83,193.15 196.58,192.49 197.33,191.84 198.09,191.19 198.84,190.55 199.59,189.90 200.35,189.26 201.10,188.63 201.86,187.99 202.61,187.36 203.36,186.74 204.12,186.12 204.87,185.50 205.62,184.89 206.38,184.28 207.13,183.67 207.89,183.07 208.64,182.47 209.39,181.87 210.15,181.28 210.90,180.70 211.66,180.12 212.41,179.54 213.16,178.97 213.92,178.40 214.67,177.83 215.42,177.27 216.18,176.72 216.93,176.17 217.69,175.62 218.44,175.08 219.19,174.55 219.95,174.02 220.70,173.49 221.45,172.97 222.21,172.45 222.96,171.94 223.72,171.44 224.47,170.94 225.22,170.44 225.98,169.95 226.73,169.47 227.49,168.99 228.24,168.52 228.99,168.05 229.75,167.59 230.50,167.13 231.25,166.68 232.01,166.24 232.76,165.80 233.52,165.37 234.27,164.95 235.02,164.53 235.78,164.11 236.53,163.71 237.28,163.31 238.04,162.91 238.79,162.53 239.55,162.15 240.30,161.77 241.05,161.40 241.81,161.04 242.56,160.69 243.32,160.34 244.07,160.00 244.82,159.67 245.58,159.35 246.33,159.03 247.08,158.72 247.84,158.41 248.59,158.12 249.35,157.83 250.10,157.55 250.85,157.27 251.61,157.01 252.36,156.75 253.11,156.50 253.87,156.26 254.62,156.02 255.38,155.79 256.13,155.57 256.88,155.36 257.64,155.16 258.39,154.96 259.15,154.78 259.90,154.60 260.65,154.43 261.41,154.26 262.16,154.11 262.91,153.96 263.67,153.82 264.42,153.69 265.18,153.57 265.93,153.46 266.68,153.35 267.44,153.26 268.19,153.17 268.94,153.09 269.70,153.02 270.45,152.96 271.21,152.90 271.96,152.86 272.71,152.82 273.47,152.80 274.22,152.78 274.98,152.77 275.73,152.76 276.48,152.77 277.24,152.78 277.99,152.81 278.74,152.84 279.50,152.88 280.25,152.93 281.01,152.99 281.76,153.05 282.51,153.13 283.27,153.21 284.02,153.30 284.77,153.40 285.53,153.51 286.28,153.63 287.04,153.76 287.79,153.89 288.54,154.03 289.30,154.18 290.05,154.34 290.81,154.51 291.56,154.68 292.31,154.87 293.07,155.06 293.82,155.26 294.57,155.47 295.33,155.68 296.08,155.90 296.84,156.14 297.59,156.38 298.34,156.62 299.10,156.88 299.85,157.14 300.60,157.41 301.36,157.69 302.11,157.97 302.87,158.26 303.62,158.56 304.37,158.87 305.13,159.19 305.88,159.51 306.64,159.84 307.39,160.17 308.14,160.51 308.90,160.86 309.65,161.22 310.40,161.59 311.16,161.96 311.91,162.33 312.67,162.72 313.42,163.11 314.17,163.50 314.93,163.91 315.68,164.32 316.43,164.73 317.19,165.16 317.94,165.58 318.70,166.02 319.45,166.46 320.20,166.91 320.96,167.36 321.71,167.82 322.47,168.28 323.22,168.75 323.97,169.23 324.73,169.71 325.48,170.19 326.23,170.69 326.99,171.18 327.74,171.69 328.50,172.19 329.25,172.71 330.00,173.23 330.76,173.75 331.51,174.28 332.26,174.81 333.02,175.35 333.77,175.89 334.53,176.44 335.28,176.99 336.03,177.55 336.79,178.11 337.54,178.68 338.30,179.25 339.05,179.82 339.80,180.40 340.56,180.99 341.31,181.58 342.06,182.17 342.82,182.76 343.57,183.36 344.33,183.97 345.08,184.58 345.83,185.19 346.59,185.81 347.34,186.42 348.09,187.05 348.85,187.68 349.60,188.31 350.36,188.94 351.11,189.58 351.86,190.22 352.62,190.86 353.37,191.51 354.13,192.16 354.88,192.82 355.63,193.48 356.39,194.14 357.14,194.80 357.89,195.47 358.65,196.14 359.40,196.81 360.16,197.49 360.91,198.17 361.66,198.85 362.42,199.54 363.17,200.23 363.92,200.92 364.68,201.61 365.43,202.31 366.19,203.01 366.94,203.71 367.69,204.41 368.45,205.12 369.20,205.83 369.96,206.54 370.71,207.25 371.46,207.97 372.22,208.69 372.97,209.41 373.72,210.13 374.48,210.86 375.23,211.58 375.99,212.31 376.74,213.05 377.49,213.78 378.25,214.52 379.00,215.25 379.75,215.99 380.51,216.74 381.26,217.48 382.02,218.23 382.77,218.97 383.52,219.72 384.28,220.48 385.03,221.23 385.79,221.98 386.54,222.74 387.29,223.50 388.05,224.26 388.80,225.02 389.55,225.79 390.31,226.55 391.06,227.32 391.82,228.09 392.57,228.86 393.32,229.63 394.08,230.40 394.83,231.18 395.58,231.95 396.34,232.73 397.09,233.51 397.85,234.29 398.60,235.07 399.35,235.86 400.11,236.64 400.86,237.43 401.62,238.21 402.37,239.00 403.12,239.79 403.88,240.58 404.63,241.38 405.38,242.17 406.14,242.96 406.89,243.76 407.65,244.55 408.40,245.35 409.15,246.15 409.91,246.95 410.66,247.75 411.41,248.55 412.17,249.36 412.92,250.16 413.68,250.97 414.43,251.77 415.18,252.58 415.94,253.39 416.69,254.20 417.45,255.00 418.20,255.82 418.95,256.63 419.71,257.44 420.46,258.25 421.21,259.07 421.97,259.88 422.72,260.70 423.48,261.51 424.23,262.33 424.98,263.15 425.74,263.97 426.49,264.78 427.24,265.60 428.00,266.42 428.75,267.25 429.51,268.07 430.26,268.89 431.01,269.71 431.77,270.54 432.52,271.36 433.28,272.19 434.03,273.01 434.78,273.84 435.54,274.67 436.29,275.49 437.04,276.32 437.80,277.15 438.55,277.98 439.31,278.81 440.06,279.64 440.81,280.47 441.57,281.30 442.32,282.13 443.07,282.96 443.83,283.79 444.58,284.63 445.34,285.46 446.09,286.29 446.84,287.13 447.60,287.96 448.35,288.79 449.11,289.63 449.86,290.46 450.61,291.30 451.37,292.14 452.12,292.97 452.87,293.81 453.63,294.64 454.38,295.48 455.14,296.32 455.89,297.16 456.64,297.99 457.40,298.83 458.15,299.67 458.90,300.51 459.66,301.35 460.41,302.19 461.17,303.03 461.92,303.87 462.67,304.70 463.43,305.54 464.18,306.38 464.94,307.22 465.69,308.06 466.44,308.91 467.20,309.75 467.95,310.59 468.70,311.43 469.46,312.27 470.21,313.11 470.97,313.95 471.72,314.79 472.47,315.63 473.23,316.47 473.98,317.31 474.73,318.16 475.49,319.00 476.24,319.84 477.00,320.68 477.75,321.52 478.50,322.36 479.26,323.20 480.01,324.05 480.77,324.89 481.52,325.73 482.27,326.57 483.03,327.41 483.78,328.25 484.53,329.09 485.29,329.93 486.04,330.78 486.80,331.62 487.55,332.46 488.30,333.30 489.06,334.14 489.81,334.98 490.56,335.82 491.32,336.66 492.07,337.50 492.83,338.34 493.58,339.18 494.33,340.02 495.09,340.86 495.84,341.70 496.60,342.54 497.35,343.38 498.10,344.22 498.86,345.06 499.61,345.89 500.36,346.73 501.12,347.57 501.87,348.41 502.63,349.25 503.38,350.08 504.13,350.92 504.89,351.76 505.64,352.60 506.39,353.43 507.15,354.27 507.90,355.10 508.66,355.94 509.41,356.78 510.16,357.61 510.92,358.45 511.67,359.28 512.43,360.11 513.18,360.95 513.93,361.78 514.69,362.61 515.44,363.45 516.19,364.28 516.95,365.11 517.70,365.94 518.46,366.78 519.21,367.61 519.96,368.44 520.72,369.27 521.47,370.10 522.22,370.93 522.98,371.76 523.73,372.59 524.49,373.41 525.24,374.24 525.99,375.07 526.75,375.90 527.50,376.72 528.26,377.55 529.01,378.37 529.76,379.20 530.52,380.02 531.27,380.85 532.02,381.67 532.78,382.50 533.53,383.32 534.29,384.14 535.04,384.96 535.79,385.78 536.55,386.60 537.30,387.42 538.05,388.24 538.81,389.06 539.56,389.88 540.32,390.70 541.07,391.52 541.82,392.33 542.58,393.15 543.33,393.97 544.09,394.78 544.84,395.60 545.59,396.41 546.35,397.22 547.10,398.04 547.85,398.85 548.61,399.66 549.36,400.47 550.12,401.28 550.87,402.09 551.62,402.90 552.38,403.71 553.13,404.51 553.88,405.32 554.64,406.13 555.39,406.93 556.15,407.74 556.90,408.54 557.65,409.35 558.41,410.15 559.16,410.95 559.92,411.75 560.67,412.55 561.42,413.35 562.18,414.15 562.93,414.95 563.68,415.75 564.44,416.54 565.19,417.34 565.95,418.13 566.70,418.93 567.45,419.72 568.21,420.52 568.96,421.31 569.71,422.10 570.47,422.89 571.22,423.68 571.98,424.47 572.73,425.25 573.48,426.04 574.24,426.83 574.99,427.61 575.75,428.40 576.50,429.18 577.25,429.96 578.01,430.74 578.76,431.53 579.51,432.31 580.27,433.08 581.02,433.86 581.78,434.64 582.53,435.42 583.28,436.19 584.04,436.96 584.79,437.74 585.54,438.51 586.30,439.28 587.05,440.05 587.81,440.82 588.56,441.59 589.31,442.36 590.07,443.12 590.82,443.89 591.58,444.65 592.33,445.41 593.08,446.18 593.84,446.94 594.59,447.70 595.34,448.46 596.10,449.21 596.85,449.97 597.61,450.73 598.36,451.48 599.11,452.23 599.87,452.99 600.62,453.74 601.37,454.49 602.13,455.24 602.88,455.98 603.64,456.73 604.39,457.48 605.14,458.22 605.90,458.96 606.65,459.71 607.41,460.45 608.16,461.19 608.91,461.92" fill="none" stroke="#ff00ff" stroke-width="1.10" stroke-linejoin="round" stroke-dasharray="1,1.5"/>
<text transform="translate(630.90,129.85) scale(0.987,0.950)" text-anchor="end">WASP-17b</text>
<path d="M639.40,125.25H679.00" fill="none" stroke="#00ffff" stroke-width="1.10" stroke-dasharray="5,2,1,2"/>
<polyline points="82.00,371.92 82.75,371.14 83.51,370.35 84.26,369.56 85.02,368.77 85.77,367.98 86.52,367.19 87.28,366.40 88.03,365.61 88.78,364.81 89.54,364.02 90.29,363.22 91.05,362.43 91.80,361.63 92.55,360.84 93.31,360.04 94.06,359.24 94.81,358.44 95.57,357.64 96.32,356.84 97.08,356.04 97.83,355.24 98.58,354.44 99.34,353.63 100.09,352.83 100.85,352.02 101.60,351.22 102.35,350.41 103.11,349.61 103.86,348.80 104.61,347.99 105.37,347.18 106.12,346.38 106.88,345.57 107.63,344.76 108.38,343.95 109.14,343.13 109.89,342.32 110.64,341.51 111.40,340.70 112.15,339.88 112.91,339.07 113.66,338.26 114.41,337.44 115.17,336.62 115.92,335.81 116.68,334.99 117.43,334.17 118.18,333.36 118.94,332.54 119.69,331.72 120.44,330.90 121.20,330.08 121.95,329.26 122.71,328.44 123.46,327.62 124.21,326.79 124.97,325.97 125.72,325.15 126.47,324.33 127.23,323.50 127.98,322.68 128.74,321.85 129.49,321.03 130.24,320.20 131.00,319.38 131.75,318.55 132.51,317.72 133.26,316.90 134.01,316.07 134.77,315.24 135.52,314.41 136.27,313.58 137.03,312.75 137.78,311.92 138.54,311.09 139.29,310.26 140.04,309.43 140.80,308.60 141.55,307.77 142.30,306.94 143.06,306.11 143.81,305.27 144.57,304.44 145.32,303.61 146.07,302.77 146.83,301.94 147.58,301.11 148.34,300.27 149.09,299.44 149.84,298.60 150.60,297.77 151.35,296.93 152.10,296.09 152.86,295.26 153.61,294.42 154.37,293.59 155.12,292.75 155.87,291.91 156.63,291.07 157.38,290.24 158.13,289.40 158.89,288.56 159.64,287.72 160.40,286.88 161.15,286.05 161.90,285.21 162.66,284.37 163.41,283.53 164.17,282.69 164.92,281.85 165.67,281.01 166.43,280.17 167.18,279.33 167.93,278.49 168.69,277.65 169.44,276.81 170.20,275.97 170.95,275.13 171.70,274.29 172.46,273.45 173.21,272.61 173.96,271.77 174.72,270.92 175.47,270.08 176.23,269.24 176.98,268.40 177.73,267.56 178.49,266.72 179.24,265.88 180.00,265.04 180.75,264.19 181.50,263.35 182.26,262.51 183.01,261.67 183.76,260.83 184.52,259.99 185.27,259.15 186.03,258.30 186.78,257.46 187.53,256.62 188.29,255.78 189.04,254.94 189.79,254.10 190.55,253.26 191.30,252.42 192.06,251.58 192.81,250.74 193.56,249.90 194.32,249.05 195.07,248.21 195.83,247.37 196.58,246.53 197.33,245.70 198.09,244.86 198.84,244.02 199.59,243.18 200.35,242.34 201.10,241.50 201.86,240.66 202.61,239.82 203.36,238.98 204.12,238.15 204.87,237.31 205.62,236.47 206.38,235.64 207.13,234.80 207.89,233.96 208.64,233.13 209.39,232.29 210.15,231.46 210.90,230.62 211.66,229.79 212.41,228.95 213.16,228.12 213.92,227.28 214.67,226.45 215.42,225.62 216.18,224.79 216.93,223.95 217.69,223.12 218.44,222.29 219.19,221.46 219.95,220.63 220.70,219.80 221.45,218.98 222.21,218.15 222.96,217.32 223.72,216.49 224.47,215.67 225.22,214.84 225.98,214.02 226.73,213.19 227.49,212.37 228.24,211.54 228.99,210.72 229.75,209.90 230.50,209.08 231.25,208.26 232.01,207.44 232.76,206.62 233.52,205.80 234.27,204.99 235.02,204.17 235.78,203.35 236.53,202.54 237.28,201.73 238.04,200.91 238.79,200.10 239.55,199.29 240.30,198.48 241.05,197.67 241.81,196.86 242.56,196.06 243.32,195.25 244.07,194.45 244.82,193.64 245.58,192.84 246.33,192.04 247.08,191.24 247.84,190.44 248.59,189.64 249.35,188.85 250.10,188.05 250.85,187.26 251.61,186.47 252.36,185.67 253.11,184.89 253.87,184.10 254.62,183.31 255.38,182.53 256.13,181.74 256.88,180.96 257.64,180.18 258.39,179.40 259.15,178.62 259.90,177.85 260.65,177.07 261.41,176.30 262.16,175.53 262.91,174.76 263.67,174.00 264.42,173.23 265.18,172.47 265.93,171.71 266.68,170.95 267.44,170.19 268.19,169.44 268.94,168.69 269.70,167.93 270.45,167.19 271.21,166.44 271.96,165.70 272.71,164.96 273.47,164.22 274.22,163.48 274.98,162.75 275.73,162.02 276.48,161.29 277.24,160.56 277.99,159.84 278.74,159.12 279.50,158.40 280.25,157.69 281.01,156.98 281.76,156.27 282.51,155.57 283.27,154.86 284.02,154.16 284.77,153.47 285.53,152.78 286.28,152.09 287.04,151.40 287.79,150.72 288.54,150.04 289.30,149.37 290.05,148.70 290.81,148.03 291.56,147.37 292.31,146.71 293.07,146.06 293.82,145.41 294.57,144.76 295.33,144.12 296.08,143.48 296.84,142.85 297.59,142.22 298.34,141.60 299.10,140.98 299.85,140.37 300.60,139.76 301.36,139.15 302.11,138.56 302.87,137.96 303.62,137.38 304.37,136.79 305.13,136.22 305.88,135.65 306.64,135.08 307.39,134.52 308.14,133.97 308.90,133.42 309.65,132.88 310.40,132.35 311.16,131.82 311.91,131.30 312.67,130.79 313.42,130.28 314.17,129.78 314.93,129.29 315.68,128.80 316.43,128.33 317.19,127.85 317.94,127.39 318.70,126.94 319.45,126.49 320.20,126.05 320.96,125.62 321.71,125.20 322.47,124.78 323.22,124.38 323.97,123.98 324.73,123.59 325.48,123.21 326.23,122.84 326.99,122.48 327.74,122.13 328.50,121.79 329.25,121.45 330.00,121.13 330.76,120.82 331.51,120.51 332.26,120.22 333.02,119.94 333.77,119.66 334.53,119.40 335.28,119.15 336.03,118.91 336.79,118.68 337.54,118.46 338.30,118.25 339.05,118.05 339.80,117.87 340.56,117.69 341.31,117.53 342.06,117.37 342.82,117.23 343.57,117.10 344.33,116.98 345.08,116.88 345.83,116.78 346.59,116.70 347.34,116.62 348.09,116.56 348.85,116.52 349.60,116.48 350.36,116.45 351.11,116.44 351.86,116.44 352.62,116.45 353.37,116.47 354.13,116.51 354.88,116.55 355.63,116.61 356.39,116.68 357.14,116.76 357.89,116.86 358.65,116.96 359.40,117.08 360.16,117.21 360.91,117.35 361.66,117.50 362.42,117.66 363.17,117.83 363.92,118.02 364.68,118.21 365.43,118.42 366.19,118.64 366.94,118.86 367.69,119.10 368.45,119.35 369.20,119.61 369.96,119.89 370.71,120.17 371.46,120.46 372.22,120.76 372.97,121.07 373.72,121.39 374.48,121.72 375.23,122.06 375.99,122.41 376.74,122.77 377.49,123.14 378.25,123.52 379.00,123.91 379.75,124.30 380.51,124.71 381.26,125.12 382.02,125.54 382.77,125.97 383.52,126.41 384.28,126.85 385.03,127.31 385.79,127.77 386.54,128.24 387.29,128.71 388.05,129.20 388.80,129.69 389.55,130.19 390.31,130.69 391.06,131.21 391.82,131.73 392.57,132.25 393.32,132.78 394.08,133.32 394.83,133.87 395.58,134.42 396.34,134.98 397.09,135.54 397.85,136.11 398.60,136.69 399.35,137.27 400.11,137.85 400.86,138.45 401.62,139.04 402.37,139.64 403.12,140.25 403.88,140.86 404.63,141.48 405.38,142.10 406.14,142.73 406.89,143.36 407.65,144.00 408.40,144.64 409.15,145.29 409.91,145.94 410.66,146.59 411.41,147.25 412.17,147.91 412.92,148.57 413.68,149.24 414.43,149.92 415.18,150.59 415.94,151.28 416.69,151.96 417.45,152.65 418.20,153.34 418.95,154.03 419.71,154.73 420.46,155.43 421.21,156.14 421.97,156.85 422.72,157.56 423.48,158.27 424.23,158.99 424.98,159.71 425.74,160.43 426.49,161.15 427.24,161.88 428.00,162.61 428.75,163.34 429.51,164.08 430.26,164.82 431.01,165.56 431.77,166.30 432.52,167.05 433.28,167.79 434.03,168.54 434.78,169.30 435.54,170.05 436.29,170.81 437.04,171.57 437.80,172.33 438.55,173.09 439.31,173.85 440.06,174.62 440.81,175.39 441.57,176.16 442.32,176.93 443.07,177.70 443.83,178.48 444.58,179.25 445.34,180.03 446.09,180.81 446.84,181.60 447.60,182.38 448.35,183.16 449.11,183.95 449.86,184.74 450.61,185.53 451.37,186.32 452.12,187.11 452.87,187.90 453.63,188.70 454.38,189.49 455.14,190.29 455.89,191.09 456.64,191.89 457.40,192.69 458.15,193.49 458.90,194.30 459.66,195.10 460.41,195.91 461.17,196.71 461.92,197.52 462.67,198.33 463.43,199.14 464.18,199.95 464.94,200.76 465.69,201.57 466.44,202.39 467.20,203.20 467.95,204.02 468.70,204.83 469.46,205.65 470.21,206.47 470.97,207.29 471.72,208.11 472.47,208.93 473.23,209.75 473.98,210.57 474.73,211.39 475.49,212.21 476.24,213.04 477.00,213.86 477.75,214.69 478.50,215.51 479.26,216.34 480.01,217.16 480.77,217.99 481.52,218.82 482.27,219.65 483.03,220.48 483.78,221.31 484.53,222.14 485.29,222.97 486.04,223.80 486.80,224.63 487.55,225.46 488.30,226.30 489.06,227.13 489.81,227.96 490.56,228.80 491.32,229.63 492.07,230.46 492.83,231.30 493.58,232.13 494.33,232.97 495.09,233.81 495.84,234.64 496.60,235.48 497.35,236.32 498.10,237.15 498.86,237.99 499.61,238.83 500.36,239.67 501.12,240.50 501.87,241.34 502.63,242.18 503.38,243.02 504.13,243.86 504.89,244.70 505.64,245.54 506.39,246.38 507.15,247.22 507.90,248.06 508.66,248.90 509.41,249.74 510.16,250.58 510.92,251.42 511.67,252.26 512.43,253.10 513.18,253.94 513.93,254.78 514.69,255.62 515.44,256.46 516.19,257.31 516.95,258.15 517.70,258.99 518.46,259.83 519.21,260.67 519.96,261.51 520.72,262.35 521.47,263.20 522.22,264.04 522.98,264.88 523.73,265.72 524.49,266.56 525.24,267.40 525.99,268.24 526.75,269.08 527.50,269.93 528.26,270.77 529.01,271.61 529.76,272.45 530.52,273.29 531.27,274.13 532.02,274.97 532.78,275.81 533.53,276.65 534.29,277.49 535.04,278.33 535.79,279.17 536.55,280.01 537.30,280.85 538.05,281.69 538.81,282.53 539.56,283.37 540.32,284.21 541.07,285.05 541.82,285.89 542.58,286.73 543.33,287.57 544.09,288.40 544.84,289.24 545.59,290.08 546.35,290.92 547.10,291.76 547.85,292.59 548.61,293.43 549.36,294.27 550.12,295.10 550.87,295.94 551.62,296.77 552.38,297.61 553.13,298.45 553.88,299.28 554.64,300.12 555.39,300.95 556.15,301.78 556.90,302.62 557.65,303.45 558.41,304.28 559.16,305.12 559.92,305.95 560.67,306.78 561.42,307.61 562.18,308.45 562.93,309.28 563.68,310.11 564.44,310.94 565.19,311.77 565.95,312.60 566.70,313.43 567.45,314.26 568.21,315.08 568.96,315.91 569.71,316.74 570.47,317.57 571.22,318.40 571.98,319.22 572.73,320.05 573.48,320.87 574.24,321.70 574.99,322.52 575.75,323.35 576.50,324.17 577.25,324.99 578.01,325.82 578.76,326.64 579.51,327.46 580.27,328.28 581.02,329.10 581.78,329.93 582.53,330.75 583.28,331.57 584.04,332.38 584.79,333.20 585.54,334.02 586.30,334.84 587.05,335.65 587.81,336.47 588.56,337.29 589.31,338.10 590.07,338.92 590.82,339.73 591.58,340.55 592.33,341.36 593.08,342.17 593.84,342.98 594.59,343.79 595.34,344.60 596.10,345.41 596.85,346.22 597.61,347.03 598.36,347.84 599.11,348.65 599.87,349.46 600.62,350.26 601.37,351.07 602.13,351.87 602.88,352.68 603.64,353.48 604.39,354.29 605.14,355.09 605.90,355.89 606.65,356.69 607.41,357.49 608.16,358.29 608.91,359.09 609.67,359.89 610.42,360.69 611.17,361.48 611.93,362.28 612.68,363.08 613.44,363.87 614.19,364.66 614.94,365.46 615.70,366.25 616.45,367.04 617.20,367.83 617.96,368.62 618.71,369.41 619.47,370.20 620.22,370.99 620.97,371.78 621.73,372.56 622.48,373.35 623.24,374.13 623.99,374.92 624.74,375.70 625.50,376.48 626.25,377.27 627.00,378.05 627.76,378.83 628.51,379.61 629.27,380.38 630.02,381.16 630.77,381.94 631.53,382.71 632.28,383.49 633.03,384.26 633.79,385.04 634.54,385.81 635.30,386.58 636.05,387.35 636.80,388.12 637.56,388.89 638.31,389.66 639.07,390.42 639.82,391.19 640.57,391.95 641.33,392.72 642.08,393.48 642.83,394.24 643.59,395.00 644.34,395.76 645.10,396.52 645.85,397.28 646.60,398.04 647.36,398.79 648.11,399.55 648.86,400.30 649.62,401.06 650.37,401.81 651.13,402.56 651.88,403.31 652.63,404.06 653.39,404.81 654.14,405.55 654.90,406.30" fill="none" stroke="#00ffff" stroke-width="1.10" stroke-linejoin="round" stroke-dasharray="5,2,1,2"/>
<text transform="translate(630.90,143.85) scale(1.009,0.950)" text-anchor="end">Transit Time</text>
<path d="M656.15,136.10l6.30,6.30M656.15,142.40l6.30,-6.30" fill="none" stroke="#00ffff" stroke-width="3.00"/>
<path d="M440.85,175.50l6.30,6.30M440.85,181.80l6.30,-6.30M441.60,176.28l6.30,6.30M441.60,182.58l6.30,-6.30M442.36,177.06l6.30,6.30M442.36,183.36l6.30,-6.30M443.11,177.84l6.30,6.30M443.11,184.14l6.30,-6.30M443.87,178.62l6.30,6.30M443.87,184.92l6.30,-6.30M444.62,179.41l6.30,6.30M444.62,185.71l6.30,-6.30M445.37,180.19l6.30,6.30M445.37,186.49l6.30,-6.30M446.13,180.98l6.30,6.30M446.13,187.28l6.30,-6.30M446.88,181.77l6.30,6.30M446.88,188.07l6.30,-6.30M447.63,182.56l6.30,6.30M447.63,188.86l6.30,-6.30M448.39,183.35l6.30,6.30M448.39,189.65l6.30,-6.30M449.14,184.14l6.30,6.30M449.14,190.44l6.30,-6.30M449.90,184.93l6.30,6.30M449.90,191.23l6.30,-6.30M450.65,185.73l6.30,6.30M450.65,192.03l6.30,-6.30M451.40,186.53l6.30,6.30M451.40,192.83l6.30,-6.30M452.16,187.32l6.30,6.30M452.16,193.62l6.30,-6.30M452.91,188.12l6.30,6.30M452.91,194.42l6.30,-6.30M453.66,188.92l6.30,6.30M453.66,195.22l6.30,-6.30M454.42,189.72l6.30,6.30M454.42,196.02l6.30,-6.30M455.17,190.53l6.30,6.30M455.17,196.83l6.30,-6.30M455.93,191.33l6.30,6.30M455.93,197.63l6.30,-6.30M456.68,192.13l6.30,6.30M456.68,198.43l6.30,-6.30M457.43,192.94l6.30,6.30M457.43,199.24l6.30,-6.30M458.19,193.75l6.30,6.30M458.19,200.05l6.30,-6.30M458.94,194.55l6.30,6.30M458.94,200.85l6.30,-6.30M459.70,195.36l6.30,6.30M459.70,201.66l6.30,-6.30M460.45,196.17l6.30,6.30M460.45,202.47l6.30,-6.30M461.20,196.98l6.30,6.30M461.20,203.28l6.30,-6.30M461.96,197.80l6.30,6.30M461.96,204.10l6.30,-6.30M462.71,198.61l6.30,6.30M462.71,204.91l6.30,-6.30M463.46,199.42l6.30,6.30M463.46,205.72l6.30,-6.30M464.22,200.24l6.30,6.30M464.22,206.54l6.30,-6.30M464.97,201.05l6.30,6.30M464.97,207.35l6.30,-6.30M465.73,201.87l6.30,6.30M465.73,208.17l6.30,-6.30M466.48,202.69l6.30,6.30M466.48,208.99l6.30,-6.30M467.23,203.50l6.30,6.30M467.23,209.80l6.30,-6.30M467.99,204.32l6.30,6.30M467.99,210.62l6.30,-6.30M468.74,205.14l6.30,6.30M468.74,211.44l6.30,-6.30M469.49,205.96l6.30,6.30M469.49,212.26l6.30,-6.30M470.25,206.78l6.30,6.30M470.25,213.08l6.30,-6.30M471.00,207.60l6.30,6.30M471.00,213.90l6.30,-6.30M471.76,208.43l6.30,6.30M471.76,214.73l6.30,-6.30M472.51,209.25l6.30,6.30M472.51,215.55l6.30,-6.30M473.26,210.07l6.30,6.30M473.26,216.37l6.30,-6.30M474.02,210.90l6.30,6.30M474.02,217.20l6.30,-6.30M474.77,211.72l6.30,6.30M474.77,218.02l6.30,-6.30M475.53,212.55l6.30,6.30M475.53,218.85l6.30,-6.30M476.28,213.38l6.30,6.30M476.28,219.68l6.30,-6.30M477.03,214.20l6.30,6.30M477.03,220.50l6.30,-6.30M477.79,215.03l6.30,6.30M477.79,221.33l6.30,-6.30M478.54,215.86l6.30,6.30M478.54,222.16l6.30,-6.30M479.29,216.69l6.30,6.30M479.29,222.99l6.30,-6.30M480.05,217.52l6.30,6.30M480.05,223.82l6.30,-6.30M480.80,218.35l6.30,6.30M480.80,224.65l6.30,-6.30M481.56,219.18l6.30,6.30M481.56,225.48l6.30,-6.30M482.31,220.01l6.30,6.30M482.31,226.31l6.30,-6.30M483.06,220.84l6.30,6.30M483.06,227.14l6.30,-6.30M483.82,221.67l6.30,6.30M483.82,227.97l6.30,-6.30M484.57,222.50l6.30,6.30M484.57,228.80l6.30,-6.30M485.32,223.33l6.30,6.30M485.32,229.63l6.30,-6.30M486.08,224.17l6.30,6.30M486.08,230.47l6.30,-6.30M486.83,225.00l6.30,6.30M486.83,231.30l6.30,-6.30M487.59,225.83l6.30,6.30M487.59,232.13l6.30,-6.30M488.34,226.67l6.30,6.30M488.34,232.97l6.30,-6.30M489.09,227.50l6.30,6.30M489.09,233.80l6.30,-6.30M489.85,228.34l6.30,6.30M489.85,234.64l6.30,-6.30M490.60,229.17l6.30,6.30M490.60,235.47l6.30,-6.30M491.36,230.01l6.30,6.30M491.36,236.31l6.30,-6.30M492.11,230.85l6.30,6.30M492.11,237.15l6.30,-6.30M492.86,231.68l6.30,6.30M492.86,237.98l6.30,-6.30M493.62,232.52l6.30,6.30M493.62,238.82l6.30,-6.30M494.37,233.36l6.30,6.30M494.37,239.66l6.30,-6.30M495.12,234.19l6.30,6.30M495.12,240.49l6.30,-6.30M495.88,235.03l6.30,6.30M495.88,241.33l6.30,-6.30M496.63,235.87l6.30,6.30M496.63,242.17l6.30,-6.30M497.39,236.71l6.30,6.30M497.39,243.01l6.30,-6.30M498.14,237.54l6.30,6.30M498.14,243.84l6.30,-6.30M498.89,238.38l6.30,6.30M498.89,244.68l6.30,-6.30M499.65,239.22l6.30,6.30M499.65,245.52l6.30,-6.30M500.40,240.06l6.30,6.30M500.40,246.36l6.30,-6.30M501.15,240.90l6.30,6.30M501.15,247.20l6.30,-6.30M501.91,241.74l6.30,6.30M501.91,248.04l6.30,-6.30M502.66,242.58l6.30,6.30M502.66,248.88l6.30,-6.30M503.42,243.42l6.30,6.30M503.42,249.72l6.30,-6.30M504.17,244.26l6.30,6.30M504.17,250.56l6.30,-6.30M504.92,245.10l6.30,6.30M504.92,251.40l6.30,-6.30M505.68,245.94l6.30,6.30M505.68,252.24l6.30,-6.30M506.43,246.78l6.30,6.30M506.43,253.08l6.30,-6.30M507.19,247.62l6.30,6.30M507.19,253.92l6.30,-6.30M507.94,248.46l6.30,6.30M507.94,254.76l6.30,-6.30M508.69,249.30l6.30,6.30M508.69,255.60l6.30,-6.30M509.45,250.14l6.30,6.30M509.45,256.44l6.30,-6.30M510.20,250.98l6.30,6.30M510.20,257.28l6.30,-6.30M510.95,251.82l6.30,6.30M510.95,258.12l6.30,-6.30M511.71,252.66l6.30,6.30M511.71,258.96l6.30,-6.30M512.46,253.51l6.30,6.30M512.46,259.81l6.30,-6.30M513.22,254.35l6.30,6.30M513.22,260.65l6.30,-6.30M513.97,255.19l6.30,6.30M513.97,261.49l6.30,-6.30M514.72,256.03l6.30,6.30M514.72,262.33l6.30,-6.30M515.48,256.87l6.30,6.30M515.48,263.17l6.30,-6.30M516.23,257.71l6.30,6.30M516.23,264.01l6.30,-6.30M516.98,258.55l6.30,6.30M516.98,264.85l6.30,-6.30M517.74,259.40l6.30,6.30M517.74,265.70l6.30,-6.30M518.49,260.24l6.30,6.30M518.49,266.54l6.30,-6.30M519.25,261.08l6.30,6.30M519.25,267.38l6.30,-6.30M520.00,261.92l6.30,6.30M520.00,268.22l6.30,-6.30M520.75,262.76l6.30,6.30M520.75,269.06l6.30,-6.30M521.51,263.60l6.30,6.30M521.51,269.90l6.30,-6.30M522.26,264.44l6.30,6.30M522.26,270.74l6.30,-6.30M523.02,265.28l6.30,6.30M523.02,271.58l6.30,-6.30M523.77,266.13l6.30,6.30M523.77,272.43l6.30,-6.30M524.52,266.97l6.30,6.30M524.52,273.27l6.30,-6.30M525.28,267.81l6.30,6.30M525.28,274.11l6.30,-6.30M526.03,268.65l6.30,6.30M526.03,274.95l6.30,-6.30M526.78,269.49l6.30,6.30M526.78,275.79l6.30,-6.30M527.54,270.33l6.30,6.30M527.54,276.63l6.30,-6.30M528.29,271.17l6.30,6.30M528.29,277.47l6.30,-6.30M529.05,272.01l6.30,6.30M529.05,278.31l6.30,-6.30M529.80,272.85l6.30,6.30M529.80,279.15l6.30,-6.30M530.55,273.69l6.30,6.30M530.55,279.99l6.30,-6.30M531.31,274.53l6.30,6.30M531.31,280.83l6.30,-6.30M532.06,275.37l6.30,6.30M532.06,281.67l6.30,-6.30M532.81,276.21l6.30,6.30M532.81,282.51l6.30,-6.30M533.57,277.05l6.30,6.30M533.57,283.35l6.30,-6.30M534.32,277.89l6.30,6.30M534.32,284.19l6.30,-6.30M535.08,278.73l6.30,6.30M535.08,285.03l6.30,-6.30M535.83,279.57l6.30,6.30M535.83,285.87l6.30,-6.30M536.58,280.41l6.30,6.30M536.58,286.71l6.30,-6.30M537.34,281.25l6.30,6.30M537.34,287.55l6.30,-6.30M538.09,282.09l6.30,6.30M538.09,288.39l6.30,-6.30M538.85,282.93l6.30,6.30M538.85,289.23l6.30,-6.30M539.60,283.77l6.30,6.30M539.60,290.07l6.30,-6.30M540.35,284.61l6.30,6.30M540.35,290.91l6.30,-6.30M541.11,285.44l6.30,6.30M541.11,291.74l6.30,-6.30M541.86,286.28l6.30,6.30M541.86,292.58l6.30,-6.30M542.61,287.12l6.30,6.30M542.61,293.42l6.30,-6.30M543.37,287.96l6.30,6.30M543.37,294.26l6.30,-6.30M544.12,288.80l6.30,6.30M544.12,295.10l6.30,-6.30M544.88,289.63l6.30,6.30M544.88,295.93l6.30,-6.30M545.63,290.47l6.30,6.30M545.63,296.77l6.30,-6.30M546.38,291.31l6.30,6.30M546.38,297.61l6.30,-6.30M547.14,292.14l6.30,6.30M547.14,298.44l6.30,-6.30M547.89,292.98l6.30,6.30M547.89,299.28l6.30,-6.30M548.64,293.81l6.30,6.30M548.64,300.11l6.30,-6.30M549.40,294.65l6.30,6.30M549.40,300.95l6.30,-6.30M550.15,295.49l6.30,6.30M550.15,301.79l6.30,-6.30M550.91,296.32l6.30,6.30M550.91,302.62l6.30,-6.30M551.66,297.15l6.30,6.30M551.66,303.45l6.30,-6.30M552.41,297.99l6.30,6.30M552.41,304.29l6.30,-6.30M553.17,298.82l6.30,6.30M553.17,305.12l6.30,-6.30M553.92,299.66l6.30,6.30M553.92,305.96l6.30,-6.30M554.68,300.49l6.30,6.30M554.68,306.79l6.30,-6.30M555.43,301.32l6.30,6.30M555.43,307.62l6.30,-6.30M556.18,302.16l6.30,6.30M556.18,308.46l6.30,-6.30M556.94,302.99l6.30,6.30M556.94,309.29l6.30,-6.30M557.69,303.82l6.30,6.30M557.69,310.12l6.30,-6.30M558.44,304.65l6.30,6.30M558.44,310.95l6.30,-6.30M559.20,305.48l6.30,6.30M559.20,311.78l6.30,-6.30M559.95,306.32l6.30,6.30M559.95,312.62l6.30,-6.30M560.71,307.15l6.30,6.30M560.71,313.45l6.30,-6.30M561.46,307.98l6.30,6.30M561.46,314.28l6.30,-6.30M562.21,308.81l6.30,6.30M562.21,315.11l6.30,-6.30M562.97,309.64l6.30,6.30M562.97,315.94l6.30,-6.30M563.72,310.47l6.30,6.30M563.72,316.77l6.30,-6.30M564.47,311.29l6.30,6.30M564.47,317.59l6.30,-6.30M565.23,312.12l6.30,6.30M565.23,318.42l6.30,-6.30M565.98,312.95l6.30,6.30M565.98,319.25l6.30,-6.30M566.74,313.78l6.30,6.30M566.74,320.08l6.30,-6.30M567.49,314.61l6.30,6.30M567.49,320.91l6.30,-6.30M568.24,315.43l6.30,6.30M568.24,321.73l6.30,-6.30M569.00,316.26l6.30,6.30M569.00,322.56l6.30,-6.30M569.75,317.09l6.30,6.30M569.75,323.39l6.30,-6.30M570.51,317.91l6.30,6.30M570.51,324.21l6.30,-6.30M571.26,318.74l6.30,6.30M571.26,325.04l6.30,-6.30M572.01,319.56l6.30,6.30M572.01,325.86l6.30,-6.30M572.77,320.39l6.30,6.30M572.77,326.69l6.30,-6.30M573.52,321.21l6.30,6.30M573.52,327.51l6.30,-6.30M574.27,322.03l6.30,6.30M574.27,328.33l6.30,-6.30M575.03,322.85l6.30,6.30M575.03,329.15l6.30,-6.30M575.78,323.68l6.30,6.30M575.78,329.98l6.30,-6.30M576.54,324.50l6.30,6.30M576.54,330.80l6.30,-6.30M577.29,325.32l6.30,6.30M577.29,331.62l6.30,-6.30M578.04,326.14l6.30,6.30M578.04,332.44l6.30,-6.30M578.80,326.96l6.30,6.30M578.80,333.26l6.30,-6.30M579.55,327.78l6.30,6.30M579.55,334.08l6.30,-6.30M580.30,328.60l6.30,6.30M580.30,334.90l6.30,-6.30M581.06,329.42l6.30,6.30M581.06,335.72l6.30,-6.30M581.81,330.24l6.30,6.30M581.81,336.54l6.30,-6.30M582.57,331.06l6.30,6.30M582.57,337.36l6.30,-6.30M583.32,331.87l6.30,6.30M583.32,338.17l6.30,-6.30M584.07,332.69l6.30,6.30M584.07,338.99l6.30,-6.30M584.83,333.51l6.30,6.30M584.83,339.81l6.30,-6.30M585.58,334.32l6.30,6.30M585.58,340.62l6.30,-6.30M586.34,335.14l6.30,6.30M586.34,341.44l6.30,-6.30M587.09,335.95l6.30,6.30M587.09,342.25l6.30,-6.30M587.84,336.77l6.30,6.30M587.84,343.07l6.30,-6.30M588.60,337.58l6.30,6.30M588.60,343.88l6.30,-6.30M589.35,338.39l6.30,6.30M589.35,344.69l6.30,-6.30M590.10,339.21l6.30,6.30M590.10,345.51l6.30,-6.30M590.86,340.02l6.30,6.30M590.86,346.32l6.30,-6.30M591.61,340.83l6.30,6.30M591.61,347.13l6.30,-6.30M592.37,341.64l6.30,6.30M592.37,347.94l6.30,-6.30M593.12,342.45l6.30,6.30M593.12,348.75l6.30,-6.30M593.87,343.26l6.30,6.30M593.87,349.56l6.30,-6.30M594.63,344.07l6.30,6.30M594.63,350.37l6.30,-6.30M595.38,344.88l6.30,6.30M595.38,351.18l6.30,-6.30M596.13,345.68l6.30,6.30M596.13,351.98l6.30,-6.30M596.89,346.49l6.30,6.30M596.89,352.79l6.30,-6.30M597.64,347.30l6.30,6.30M597.64,353.60l6.30,-6.30M598.40,348.10l6.30,6.30M598.40,354.40l6.30,-6.30M599.15,348.91l6.30,6.30M599.15,355.21l6.30,-6.30M599.90,349.71l6.30,6.30M599.90,356.01l6.30,-6.30M600.66,350.51l6.30,6.30M600.66,356.81l6.30,-6.30M601.41,351.32l6.30,6.30M601.41,357.62l6.30,-6.30" fill="none" stroke="#00ffff" stroke-width="3.80"/>
<text transform="translate(630.90,157.85) scale(0.990,0.950)" text-anchor="end">WASP-18b</text>
<path d="M639.40,153.25H679.00" fill="none" stroke="#ffff00" stroke-width="1.10" stroke-dasharray="4,3,1,3"/>
<polyline points="82.00,407.74 82.75,408.22 83.51,408.71 84.26,409.19 85.02,409.67 85.77,410.15 86.52,410.62 87.28,411.10 88.03,411.57 88.78,412.04 89.54,412.51 90.29,412.98 91.05,413.44 91.80,413.91 92.55,414.37 93.31,414.83 94.06,415.29 94.81,415.74 95.57,416.20 96.32,416.65 97.08,417.10 97.83,417.55 98.58,418.00 99.34,418.44 100.09,418.89 100.85,419.33 101.60,419.77 102.35,420.21 103.11,420.64 103.86,421.08 104.61,421.51 105.37,421.94 106.12,422.37 106.88,422.80 107.63,423.22 108.38,423.64 109.14,424.06 109.89,424.48 110.64,424.90 111.40,425.32 112.15,425.73 112.91,426.14 113.66,426.55 114.41,426.96 115.17,427.36 115.92,427.77 116.68,428.17 117.43,428.57 118.18,428.96 118.94,429.36 119.69,429.75 120.44,430.14 121.20,430.53 121.95,430.92 122.71,431.31 123.46,431.69 124.21,432.07 124.97,432.45 125.72,432.83 126.47,433.20 127.23,433.58 127.98,433.95 128.74,434.32 129.49,434.68 130.24,435.05 131.00,435.41 131.75,435.77 132.51,436.13 133.26,436.49 134.01,436.84 134.77,437.19 135.52,437.54 136.27,437.89 137.03,438.24 137.78,438.58 138.54,438.92 139.29,439.26 140.04,439.60 140.80,439.93 141.55,440.27 142.30,440.60 143.06,440.92 143.81,441.25 144.57,441.57 145.32,441.90 146.07,442.22 146.83,442.53 147.58,442.85 148.34,443.16 149.09,443.47 149.84,443.78 150.60,444.09 151.35,444.39 152.10,444.70 152.86,445.00 153.61,445.29 154.37,445.59 155.12,445.88 155.87,446.17 156.63,446.46 157.38,446.75 158.13,447.03 158.89,447.31 159.64,447.59 160.40,447.87 161.15,448.14 161.90,448.42 162.66,448.69 163.41,448.96 164.17,449.22 164.92,449.48 165.67,449.75 166.43,450.00 167.18,450.26 167.93,450.52 168.69,450.77 169.44,451.02 170.20,451.26 170.95,451.51 171.70,451.75 172.46,451.99 173.21,452.23 173.96,452.46 174.72,452.70 175.47,452.93 176.23,453.16 176.98,453.38 177.73,453.60 178.49,453.83 179.24,454.04 180.00,454.26 180.75,454.47 181.50,454.69 182.26,454.89 183.01,455.10 183.76,455.31 184.52,455.51 185.27,455.71 186.03,455.90 186.78,456.10 187.53,456.29 188.29,456.48 189.04,456.67 189.79,456.85 190.55,457.03 191.30,457.21 192.06,457.39 192.81,457.57 193.56,457.74 194.32,457.91 195.07,458.08 195.83,458.24 196.58,458.40 197.33,458.56 198.09,458.72 198.84,458.88 199.59,459.03 200.35,459.18 201.10,459.33 201.86,459.47 202.61,459.62 203.36,459.76 204.12,459.89 204.87,460.03 205.62,460.16 206.38,460.29 207.13,460.42 207.89,460.54 208.64,460.67 209.39,460.79 210.15,460.91 210.90,461.02 211.66,461.13 212.41,461.24 213.16,461.35 213.92,461.46 214.67,461.56 215.42,461.66 216.18,461.76 216.93,461.85 217.69,461.94" fill="none" stroke="#ffff00" stroke-width="1.10" stroke-linejoin="round" stroke-dasharray="4,3,1,3"/>
<polyline points="271.21,461.95 271.96,461.86 272.71,461.77 273.47,461.67 274.22,461.57 274.98,461.47 275.73,461.36 276.48,461.25 277.24,461.14 277.99,461.03 278.74,460.92 279.50,460.80 280.25,460.68 281.01,460.56 281.76,460.43 282.51,460.30 283.27,460.17 284.02,460.04 284.77,459.91 285.53,459.77 286.28,459.63 287.04,459.49 287.79,459.34 288.54,459.19 289.30,459.04 290.05,458.89 290.81,458.74 291.56,458.58 292.31,458.42 293.07,458.26 293.82,458.09 294.57,457.93 295.33,457.76 296.08,457.58 296.84,457.41 297.59,457.23 298.34,457.05 299.10,456.87 299.85,456.69 300.60,456.50 301.36,456.31 302.11,456.12 302.87,455.92 303.62,455.73 304.37,455.53 305.13,455.33 305.88,455.12 306.64,454.92 307.39,454.71 308.14,454.50 308.90,454.28 309.65,454.07 310.40,453.85 311.16,453.63 311.91,453.40 312.67,453.18 313.42,452.95 314.17,452.72 314.93,452.49 315.68,452.25 316.43,452.01 317.19,451.77 317.94,451.53 318.70,451.29 319.45,451.04 320.20,450.79 320.96,450.54 321.71,450.29 322.47,450.03 323.22,449.77 323.97,449.51 324.73,449.25 325.48,448.98 326.23,448.71 326.99,448.44 327.74,448.17 328.50,447.90 329.25,447.62 330.00,447.34 330.76,447.06 331.51,446.78 332.26,446.49 333.02,446.20 333.77,445.91 334.53,445.62 335.28,445.32 336.03,445.03 336.79,444.73 337.54,444.42 338.30,444.12 339.05,443.81 339.80,443.51 340.56,443.19 341.31,442.88 342.06,442.57 342.82,442.25 343.57,441.93 344.33,441.61 345.08,441.28 345.83,440.96 346.59,440.63 347.34,440.30 348.09,439.97 348.85,439.63 349.60,439.29 350.36,438.96 351.11,438.61 351.86,438.27 352.62,437.92 353.37,437.58 354.13,437.23 354.88,436.88 355.63,436.52 356.39,436.17 357.14,435.81 357.89,435.45 358.65,435.08 359.40,434.72 360.16,434.35 360.91,433.98 361.66,433.61 362.42,433.24 363.17,432.87 363.92,432.49 364.68,432.11 365.43,431.73 366.19,431.35 366.94,430.96 367.69,430.57 368.45,430.18 369.20,429.79 369.96,429.40 370.71,429.00 371.46,428.61 372.22,428.21 372.97,427.81 373.72,427.40 374.48,427.00 375.23,426.59 375.99,426.18 376.74,425.77 377.49,425.36 378.25,424.94 379.00,424.53 379.75,424.11 380.51,423.69 381.26,423.26 382.02,422.84 382.77,422.41 383.52,421.98 384.28,421.55 385.03,421.12 385.79,420.69 386.54,420.25 387.29,419.81 388.05,419.37 388.80,418.93 389.55,418.49 390.31,418.04 391.06,417.60 391.82,417.15 392.57,416.70 393.32,416.24 394.08,415.79 394.83,415.33 395.58,414.87 396.34,414.41 397.09,413.95 397.85,413.49 398.60,413.02 399.35,412.56 400.11,412.09 400.86,411.62 401.62,411.14 402.37,410.67 403.12,410.19 403.88,409.72 404.63,409.24 405.38,408.76 406.14,408.27 406.89,407.79 407.65,407.30 408.40,406.81 409.15,406.32 409.91,405.83 410.66,405.34 411.41,404.84 412.17,404.35 412.92,403.85 413.68,403.35 414.43,402.85 415.18,402.34 415.94,401.84 416.69,401.33 417.45,400.82 418.20,400.31 418.95,399.80 419.71,399.29 420.46,398.77 421.21,398.26 421.97,397.74 422.72,397.22 423.48,396.70 424.23,396.17 424.98,395.65 425.74,395.12 426.49,394.59 427.24,394.07 428.00,393.53 428.75,393.00 429.51,392.47 430.26,391.93 431.01,391.40 431.77,390.86 432.52,390.32 433.28,389.77 434.03,389.23 434.78,388.69 435.54,388.14 436.29,387.59 437.04,387.04 437.80,386.49 438.55,385.94 439.31,385.39 440.06,384.83 440.81,384.27 441.57,383.72 442.32,383.16 443.07,382.60 443.83,382.03 444.58,381.47 445.34,380.90 446.09,380.34 446.84,379.77 447.60,379.20 448.35,378.63 449.11,378.05 449.86,377.48 450.61,376.91 451.37,376.33 452.12,375.75 452.87,375.17 453.63,374.59 454.38,374.01 455.14,373.42 455.89,372.84 456.64,372.25 457.40,371.66 458.15,371.08 458.90,370.48 459.66,369.89 460.41,369.30 461.17,368.70 461.92,368.11 462.67,367.51 463.43,366.91 464.18,366.31 464.94,365.71 465.69,365.11 466.44,364.51 467.20,363.90 467.95,363.30 468.70,362.69 469.46,362.08 470.21,361.47 470.97,360.86 471.72,360.24 472.47,359.63 473.23,359.02 473.98,358.40 474.73,357.78 475.49,357.16 476.24,356.54 477.00,355.92 477.75,355.30 478.50,354.68 479.26,354.05 480.01,353.42 480.77,352.80 481.52,352.17 482.27,351.54 483.03,350.91 483.78,350.28 484.53,349.64 485.29,349.01 486.04,348.37 486.80,347.74 487.55,347.10 488.30,346.46 489.06,345.82 489.81,345.18 490.56,344.53 491.32,343.89 492.07,343.25 492.83,342.60 493.58,341.95 494.33,341.31 495.09,340.66 495.84,340.01 496.60,339.35 497.35,338.70 498.10,338.05 498.86,337.39 499.61,336.74 500.36,336.08 501.12,335.42 501.87,334.76 502.63,334.10 503.38,333.44 504.13,332.78 504.89,332.12 505.64,331.45 506.39,330.79 507.15,330.12 507.90,329.46 508.66,328.79 509.41,328.12 510.16,327.45 510.92,326.78 511.67,326.10 512.43,325.43 513.18,324.76 513.93,324.08 514.69,323.40 515.44,322.73 516.19,322.05 516.95,321.37 517.70,320.69 518.46,320.01 519.21,319.33 519.96,318.64 520.72,317.96 521.47,317.27 522.22,316.59 522.98,315.90 523.73,315.21 524.49,314.52 525.24,313.83 525.99,313.14 526.75,312.45 527.50,311.76 528.26,311.06 529.01,310.37 529.76,309.68 530.52,308.98 531.27,308.28 532.02,307.58 532.78,306.89 533.53,306.19 534.29,305.48 535.04,304.78 535.79,304.08 536.55,303.38 537.30,302.67 538.05,301.97 538.81,301.26 539.56,300.56 540.32,299.85 541.07,299.14 541.82,298.43 542.58,297.72 543.33,297.01 544.09,296.30 544.84,295.59 545.59,294.87 546.35,294.16 547.10,293.44 547.85,292.73 548.61,292.01 549.36,291.29 550.12,290.58 550.87,289.86 551.62,289.14 552.38,288.42 553.13,287.69 553.88,286.97 554.64,286.25 555.39,285.53 556.15,284.80 556.90,284.08 557.65,283.35 558.41,282.62 559.16,281.90 559.92,281.17 560.67,280.44 561.42,279.71 562.18,278.98 562.93,278.25 563.68,277.52 564.44,276.78 565.19,276.05 565.95,275.32 566.70,274.58 567.45,273.85 568.21,273.11 568.96,272.37 569.71,271.63 570.47,270.90 571.22,270.16 571.98,269.42 572.73,268.68 573.48,267.94 574.24,267.19 574.99,266.45 575.75,265.71 576.50,264.96 577.25,264.22 578.01,263.47 578.76,262.73 579.51,261.98 580.27,261.24 581.02,260.49 581.78,259.74 582.53,258.99 583.28,258.24 584.04,257.49 584.79,256.74 585.54,255.99 586.30,255.23 587.05,254.48 587.81,253.73 588.56,252.97 589.31,252.22 590.07,251.46 590.82,250.71 591.58,249.95 592.33,249.19 593.08,248.44 593.84,247.68 594.59,246.92 595.34,246.16 596.10,245.40 596.85,244.64 597.61,243.88 598.36,243.12 599.11,242.35 599.87,241.59 600.62,240.83 601.37,240.06 602.13,239.30 602.88,238.53 603.64,237.77 604.39,237.00 605.14,236.23 605.90,235.46 606.65,234.70 607.41,233.93 608.16,233.16 608.91,232.39 609.67,231.62 610.42,230.85 611.17,230.08 611.93,229.31 612.68,228.53 613.44,227.76 614.19,226.99 614.94,226.21 615.70,225.44 616.45,224.66 617.20,223.89 617.96,223.11 618.71,222.34 619.47,221.56 620.22,220.78 620.97,220.00 621.73,219.23 622.48,218.45 623.24,217.67 623.99,216.89 624.74,216.11 625.50,215.33 626.25,214.55 627.00,213.76 627.76,212.98 628.51,212.20 629.27,211.42 630.02,210.63 630.77,209.85 631.53,209.07 632.28,208.28 633.03,207.50 633.79,206.71 634.54,205.92 635.30,205.14 636.05,204.35 636.80,203.56 637.56,202.77 638.31,201.99 639.07,201.20 639.82,200.41 640.57,199.62 641.33,198.83 642.08,198.04 642.83,197.25 643.59,196.46 644.34,195.67 645.10,194.87 645.85,194.08 646.60,193.29 647.36,192.50 648.11,191.70 648.86,190.91 649.62,190.11 650.37,189.32 651.13,188.52 651.88,187.73 652.63,186.93 653.39,186.14 654.14,185.34 654.90,184.54" fill="none" stroke="#ffff00" stroke-width="1.10" stroke-linejoin="round" stroke-dasharray="4,3,1,3"/>
<text transform="translate(630.90,171.85) scale(1.009,0.950)" text-anchor="end">Transit Time</text>
<path d="M657.10,162.95v8.60M661.50,162.95v8.60M655.00,165.05h8.60M655.00,169.45h8.60M655.70,167.25h7.20" fill="none" stroke="#ffff00" stroke-width="2.70"/>
<path d="M162.10,444.97v8.60M166.50,444.97v8.60M160.00,447.07h8.60M160.00,451.47h8.60M160.70,449.27h7.20M162.85,445.23v8.60M167.25,445.23v8.60M160.75,447.33h8.60M160.75,451.73h8.60M161.45,449.53h7.20M163.61,445.49v8.60M168.01,445.49v8.60M161.51,447.59h8.60M161.51,451.99h8.60M162.21,449.79h7.20M164.36,445.75v8.60M168.76,445.75v8.60M162.26,447.85h8.60M162.26,452.25h8.60M162.96,450.05h7.20M165.12,446.01v8.60M169.52,446.01v8.60M163.02,448.11h8.60M163.02,452.51h8.60M163.72,450.31h7.20M165.87,446.26v8.60M170.27,446.26v8.60M163.77,448.36h8.60M163.77,452.76h8.60M164.47,450.56h7.20M166.62,446.51v8.60M171.02,446.51v8.60M164.52,448.61h8.60M164.52,453.01h8.60M165.22,450.81h7.20M167.38,446.76v8.60M171.78,446.76v8.60M165.28,448.86h8.60M165.28,453.26h8.60M165.98,451.06h7.20M168.13,447.01v8.60M172.53,447.01v8.60M166.03,449.11h8.60M166.03,453.51h8.60M166.73,451.31h7.20M168.88,447.25v8.60M173.28,447.25v8.60M166.78,449.35h8.60M166.78,453.75h8.60M167.48,451.55h7.20M169.64,447.49v8.60M174.04,447.49v8.60M167.54,449.59h8.60M167.54,453.99h8.60M168.24,451.79h7.20M170.39,447.73v8.60M174.79,447.73v8.60M168.29,449.83h8.60M168.29,454.23h8.60M168.99,452.03h7.20M171.15,447.97v8.60M175.55,447.97v8.60M169.05,450.07h8.60M169.05,454.47h8.60M169.75,452.27h7.20M171.90,448.21v8.60M176.30,448.21v8.60M169.80,450.31h8.60M169.80,454.71h8.60M170.50,452.51h7.20M172.65,448.44v8.60M177.05,448.44v8.60M170.55,450.54h8.60M170.55,454.94h8.60M171.25,452.74h7.20M173.41,448.67v8.60M177.81,448.67v8.60M171.31,450.77h8.60M171.31,455.17h8.60M172.01,452.97h7.20M174.16,448.90v8.60M178.56,448.90v8.60M172.06,451.00h8.60M172.06,455.40h8.60M172.76,453.20h7.20M174.91,449.12v8.60M179.31,449.12v8.60M172.81,451.22h8.60M172.81,455.62h8.60M173.51,453.42h7.20M175.67,449.34v8.60M180.07,449.34v8.60M173.57,451.44h8.60M173.57,455.84h8.60M174.27,453.64h7.20M176.42,449.56v8.60M180.82,449.56v8.60M174.32,451.66h8.60M174.32,456.06h8.60M175.02,453.86h7.20M177.18,449.78v8.60M181.58,449.78v8.60M175.08,451.88h8.60M175.08,456.28h8.60M175.78,454.08h7.20M177.93,450.00v8.60M182.33,450.00v8.60M175.83,452.10h8.60M175.83,456.50h8.60M176.53,454.30h7.20M178.68,450.21v8.60M183.08,450.21v8.60M176.58,452.31h8.60M176.58,456.71h8.60M177.28,454.51h7.20M179.44,450.42v8.60M183.84,450.42v8.60M177.34,452.52h8.60M177.34,456.92h8.60M178.04,454.72h7.20M180.19,450.63v8.60M184.59,450.63v8.60M178.09,452.73h8.60M178.09,457.13h8.60M178.79,454.93h7.20M180.95,450.84v8.60M185.35,450.84v8.60M178.85,452.94h8.60M178.85,457.34h8.60M179.55,455.14h7.20M181.70,451.04v8.60M186.10,451.04v8.60M179.60,453.14h8.60M179.60,457.54h8.60M180.30,455.34h7.20M182.45,451.24v8.60M186.85,451.24v8.60M180.35,453.34h8.60M180.35,457.74h8.60M181.05,455.54h7.20M183.21,451.44v8.60M187.61,451.44v8.60M181.11,453.54h8.60M181.11,457.94h8.60M181.81,455.74h7.20M183.96,451.64v8.60M188.36,451.64v8.60M181.86,453.74h8.60M181.86,458.14h8.60M182.56,455.94h7.20M184.71,451.83v8.60M189.11,451.83v8.60M182.61,453.93h8.60M182.61,458.33h8.60M183.31,456.13h7.20M185.47,452.02v8.60M189.87,452.02v8.60M183.37,454.12h8.60M183.37,458.52h8.60M184.07,456.32h7.20M186.22,452.21v8.60M190.62,452.21v8.60M184.12,454.31h8.60M184.12,458.71h8.60M184.82,456.51h7.20M186.98,452.40v8.60M191.38,452.40v8.60M184.88,454.50h8.60M184.88,458.90h8.60M185.58,456.70h7.20M187.73,452.58v8.60M192.13,452.58v8.60M185.63,454.68h8.60M185.63,459.08h8.60M186.33,456.88h7.20M188.48,452.77v8.60M192.88,452.77v8.60M186.38,454.87h8.60M186.38,459.27h8.60M187.08,457.07h7.20M189.24,452.95v8.60M193.64,452.95v8.60M187.14,455.05h8.60M187.14,459.45h8.60M187.84,457.25h7.20M189.99,453.12v8.60M194.39,453.12v8.60M187.89,455.22h8.60M187.89,459.62h8.60M188.59,457.42h7.20M190.74,453.30v8.60M195.14,453.30v8.60M188.64,455.40h8.60M188.64,459.80h8.60M189.34,457.60h7.20M191.50,453.47v8.60M195.90,453.47v8.60M189.40,455.57h8.60M189.40,459.97h8.60M190.10,457.77h7.20M192.25,453.64v8.60M196.65,453.64v8.60M190.15,455.74h8.60M190.15,460.14h8.60M190.85,457.94h7.20M193.01,453.81v8.60M197.41,453.81v8.60M190.91,455.91h8.60M190.91,460.31h8.60M191.61,458.11h7.20M193.76,453.97v8.60M198.16,453.97v8.60M191.66,456.07h8.60M191.66,460.47h8.60M192.36,458.27h7.20M194.51,454.13v8.60M198.91,454.13v8.60M192.41,456.23h8.60M192.41,460.63h8.60M193.11,458.43h7.20M195.27,454.29v8.60M199.67,454.29v8.60M193.17,456.39h8.60M193.17,460.79h8.60M193.87,458.59h7.20M196.02,454.45v8.60M200.42,454.45v8.60M193.92,456.55h8.60M193.92,460.95h8.60M194.62,458.75h7.20M196.78,454.60v8.60M201.18,454.60v8.60M194.68,456.70h8.60M194.68,461.10h8.60M195.38,458.90h7.20M197.53,454.76v8.60M201.93,454.76v8.60M195.43,456.86h8.60M195.43,461.26h8.60M196.13,459.06h7.20M198.28,454.91v8.60M202.68,454.91v8.60M196.18,457.01h8.60M196.18,461.41h8.60M196.88,459.21h7.20M199.04,455.05v8.60M203.44,455.05v8.60M196.94,457.15h8.60M196.94,461.55h8.60M197.64,459.35h7.20M199.79,455.20v8.60M204.19,455.20v8.60M197.69,457.30h8.60M197.69,461.70h8.60M198.39,459.50h7.20M200.54,455.34v8.60M204.94,455.34v8.60M198.44,457.44h8.60M198.44,461.84h8.60M199.14,459.64h7.20M201.30,455.48v8.60M205.70,455.48v8.60M199.20,457.58h8.60M199.20,461.98h8.60M199.90,459.78h7.20M202.05,455.62v8.60M206.45,455.62v8.60M199.95,457.72h8.60M199.95,462.12h8.60M200.65,459.92h7.20M202.81,455.75v8.60M207.21,455.75v8.60M200.71,457.85h8.60M200.71,462.25h8.60M201.41,460.05h7.20M203.56,455.88v8.60M207.96,455.88v8.60M201.46,457.98h8.60M201.46,462.38h8.60M202.16,460.18h7.20M204.31,456.01v8.60M208.71,456.01v8.60M202.21,458.11h8.60M202.21,462.51h8.60M202.91,460.31h7.20M205.07,456.14v8.60M209.47,456.14v8.60M202.97,458.24h8.60M202.97,462.64h8.60M203.67,460.44h7.20M205.82,456.27v8.60M210.22,456.27v8.60M203.72,458.37h8.60M203.72,462.77h8.60M204.42,460.57h7.20M206.57,456.39v8.60M210.97,456.39v8.60M204.47,458.49h8.60M204.47,462.89h8.60M205.17,460.69h7.20M207.33,456.51v8.60M211.73,456.51v8.60M205.23,458.61h8.60M205.23,463.01h8.60M205.93,460.81h7.20M208.08,456.63v8.60M212.48,456.63v8.60M205.98,458.73h8.60M205.98,463.13h8.60M206.68,460.93h7.20M208.84,456.74v8.60M213.24,456.74v8.60M206.74,458.84h8.60M206.74,463.24h8.60M207.44,461.04h7.20M209.59,456.85v8.60M213.99,456.85v8.60M207.49,458.95h8.60M207.49,463.35h8.60M208.19,461.15h7.20M210.34,456.96v8.60M214.74,456.96v8.60M208.24,459.06h8.60M208.24,463.46h8.60M208.94,461.26h7.20M211.10,457.07v8.60M215.50,457.07v8.60M209.00,459.17h8.60M209.00,463.57h8.60M209.70,461.37h7.20" fill="none" stroke="#ffff00" stroke-width="2.70"/>
<text transform="translate(630.90,185.85) scale(0.976,0.950)" text-anchor="end">horizontial limit</text>
<path d="M639.40,181.25H679.00" fill="none" stroke="#000" stroke-width="1"/>
<path d="M82.00,368.70H655.00" fill="none" stroke="#000" stroke-width="1"/>
<path d="M193,462.00H219" fill="none" stroke="#000" stroke-width="1.6" opacity="0.6"/>
</svg></body></html>
